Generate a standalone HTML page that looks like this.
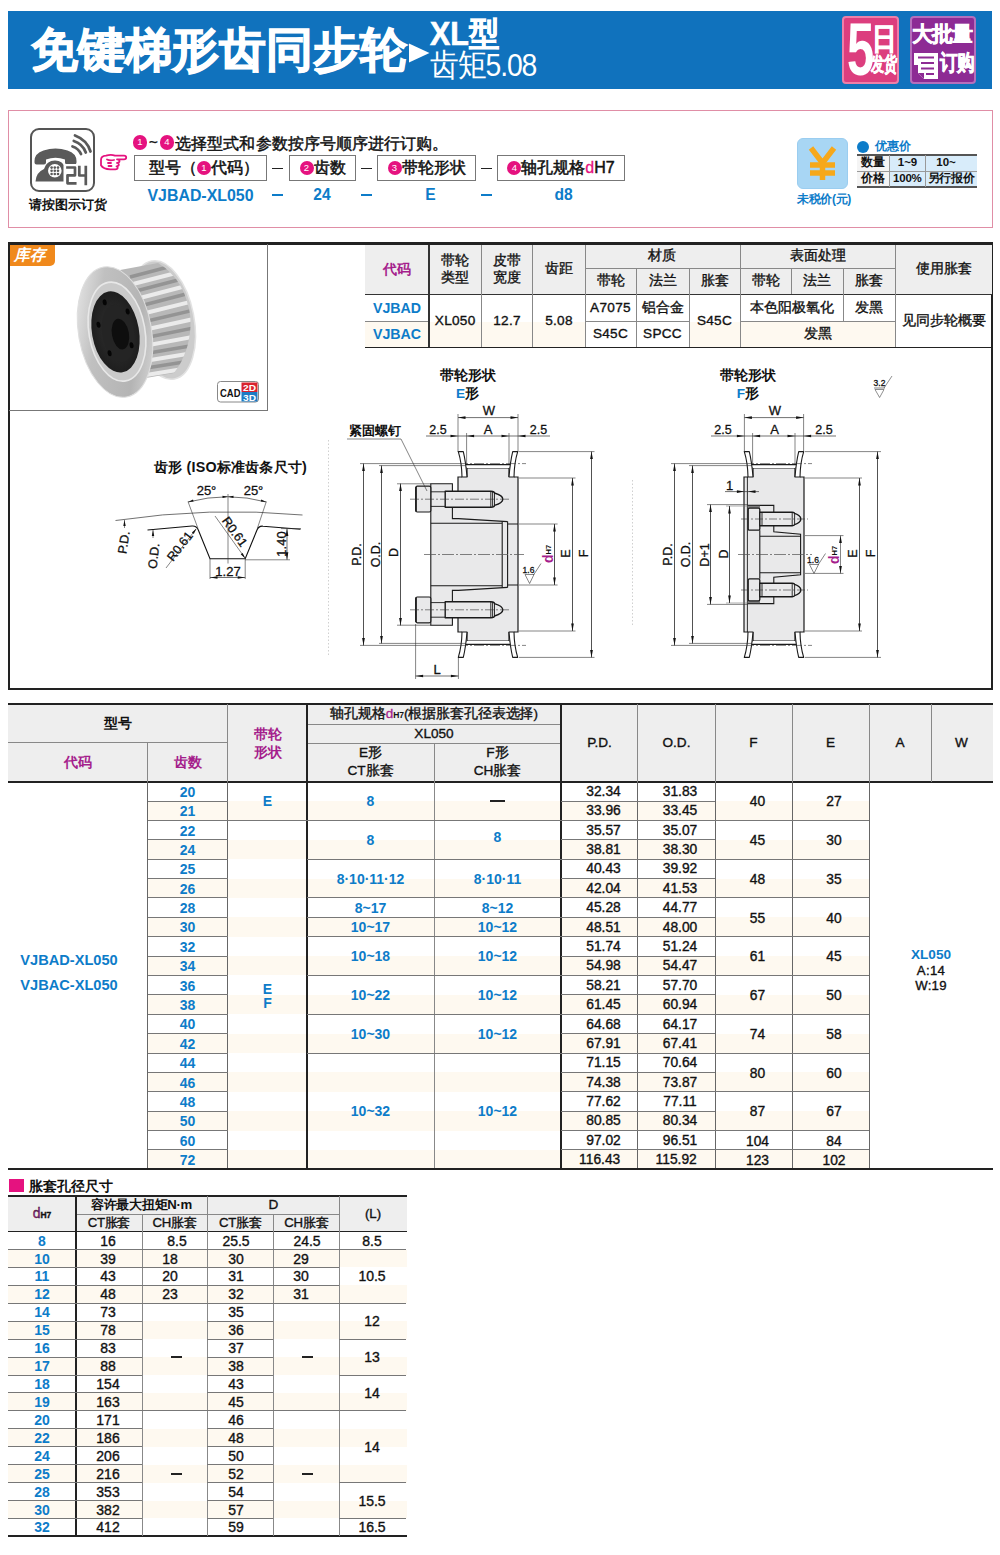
<!DOCTYPE html>
<html><head><meta charset="utf-8"><title>XL</title>
<style>
html,body{margin:0;padding:0;background:#fff;}
html{overflow:hidden;width:1000px;height:1555px;}
body{width:1000px;height:1555px;position:relative;overflow:hidden;font-family:"Liberation Sans",sans-serif;color:#111;}
div{position:absolute;box-sizing:border-box;}
.t{white-space:nowrap;overflow:visible;}
svg{position:absolute;left:0;top:0;}
svg text{font-family:"Liberation Sans",sans-serif;}
</style></head><body>
<div class="" style="left:8px;top:11px;width:984px;height:78px;background:#1072bd;"></div>
<div class="t" style="left:31px;top:20px;height:60px;line-height:60px;font-size:46.5px;font-weight:900;color:#fff;letter-spacing:0px;-webkit-text-stroke:1.1px #fff;">免键梯形齿同步轮</div>
<svg width="1000" height="120" style="z-index:2"><polygon points="409,43.5 409,62.5 429.5,53" fill="#fff"/></svg>
<div class="t" style="left:429.5px;top:15px;height:38px;line-height:38px;font-size:33px;font-weight:bold;color:#fff;-webkit-text-stroke:0.7px #fff;transform:scaleX(0.92);transform-origin:0 50%;">XL型</div>
<div class="t" style="left:430px;top:45.5px;height:38px;line-height:38px;font-size:31.5px;color:#fff;letter-spacing:-1.2px;transform:scaleX(0.9);transform-origin:0 50%;">齿矩5.08</div>
<div class="" style="left:842px;top:16px;width:57px;height:68px;background:#dc3e7e;border:2px solid #ee7fa8;border-radius:4px;"></div>
<div class="t" style="left:846.5px;top:10.5px;height:78px;line-height:78px;font-size:74px;font-weight:bold;color:#fff;transform:scaleX(0.66);transform-origin:0 50%;letter-spacing:-2px;">5</div>
<div class="t" style="left:871.5px;top:22px;height:34px;line-height:34px;font-size:29.5px;font-weight:900;color:#fff;-webkit-text-stroke:0.9px #fff;transform:scaleX(0.82);transform-origin:0 50%;">日</div>
<div class="t" style="left:870.5px;top:52px;height:24px;line-height:24px;font-size:19.5px;font-weight:900;color:#fff;letter-spacing:-1px;-webkit-text-stroke:0.5px #fff;transform:scaleX(0.66);transform-origin:0 50%;">发货</div>
<div class="" style="left:910px;top:16px;width:66px;height:68px;background:#8d2b94;border:2px solid #b56fbc;border-radius:4px;"></div>
<div class="t" style="left:912px;top:19px;height:30px;line-height:30px;font-size:21px;font-weight:900;color:#fff;letter-spacing:-1px;-webkit-text-stroke:0.6px #fff;">大批量</div>
<div class="t" style="left:939.5px;top:48px;height:30px;line-height:30px;font-size:22px;font-weight:900;color:#fff;letter-spacing:-1px;-webkit-text-stroke:0.6px #fff;transform:scaleX(0.8);transform-origin:0 50%;">订购</div>
<svg width="1000" height="120" style="z-index:3"><path d="M914 53 h24 v26 h-14 l-6 -6 v-8 h-4 z" fill="#fff"/><path d="M918 57.5 h16 M921 63 h13 M921 68.5 h13 M926 74 h8" stroke="#8d2b94" stroke-width="2.2" fill="none"/><path d="M918 73 l6 6 v-6 z" fill="#8d2b94"/></svg>
<div class="" style="left:8px;top:109.7px;width:985px;height:118.3px;border:1.5px solid #e08ea6;background:#fff;"></div>
<div class="" style="left:30.4px;top:128.3px;width:64.4px;height:64px;border:2.2px solid #555;border-radius:9px;background:#fff;"></div>
<svg width="1000" height="240" style="z-index:2">
<g fill="#5a5a5a">
<path d="M35.500 181.600 q0.500 -9 8.500 -12.500 q2.500 -8.500 11 -8.500 q8 0 10.500 8 q3 2 3 6 v7 z"/>
<path d="M34.500 161 q0 -7.500 9 -10.500 q12 -4 24 0 q9 3 9 10.500 v1.500 q0 2 -2 2 h-7.500 q-2 0 -2 -2 v-3 q-9.500 -3.500 -19 0 v3 q0 2 -2 2 h-7.500 q-2 0 -2 -2 z"/>
</g>
<circle cx="54.800" cy="170.800" r="6.800" fill="#fff"/>
<g fill="#5a5a5a"><circle cx="51.600" cy="167.600" r="1.300"/><circle cx="54.800" cy="167.600" r="1.300"/><circle cx="58" cy="167.600" r="1.300"/><circle cx="51.600" cy="170.800" r="1.300"/><circle cx="54.800" cy="170.800" r="1.300"/><circle cx="58" cy="170.800" r="1.300"/><circle cx="51.600" cy="174" r="1.300"/><circle cx="54.800" cy="174" r="1.300"/><circle cx="58" cy="174" r="1.300"/></g>
<g fill="none" stroke="#5a5a5a" stroke-width="2.800" stroke-linecap="round">
<path d="M72.500 146.500 q6 2 8.500 7.500"/><path d="M73.800 141 q9 3 12 11.500"/><path d="M75 135.500 q12 4.500 15.500 16"/>
</g>
<rect x="63.500" y="164" width="25" height="22" fill="#fff"/>
<g fill="none" stroke="#5a5a5a" stroke-width="2.700" stroke-linejoin="round" stroke-linecap="square">
<path d="M67.500 167.500 H75 V175.300 H67.500 V183.300 H75.200"/>
<path d="M79.300 167 V175.500 H85.800 M85.800 167 V184"/>
</g>
<!-- pointing hand -->
<g fill="none" stroke="#e5127f" stroke-width="1.800" stroke-linejoin="round" stroke-linecap="round">
<path d="M101 160 q0 -4 5 -4.300 q5 -1.500 9 0 h9 q2.200 0 2.200 1.800 q0 1.800 -2.200 1.800 h-7 q2.500 0 2.500 1.800 q0 1.800 -2.500 1.800 q1.800 0 1.800 1.700 q0 1.700 -2.300 1.700 q1.200 0 1.200 1.500 q0 1.500 -2.400 1.500 h-5 q-7 0 -9.300 -4 z"/>
<path d="M107 159.500 q3 1.500 7 0.500 M108 163 h3 M108.500 166 h3"/>
</g>
</svg>
<div class="t" style="left:7.5px;top:197.9px;width:120px;height:15.1px;line-height:15.1px;font-size:12.6px;color:#111;text-align:center;font-weight:bold;">请按图示订货</div>
<div style="left:132.9px;top:135.4px;width:14.2px;height:14.2px;border-radius:50%;background:#e5127f;color:#fff;font-size:9.6px;line-height:14.2px;text-align:center;">1</div>
<div class="t" style="left:149px;top:132px;height:20px;line-height:20px;font-size:15px;color:#111;-webkit-text-stroke:0.4px #111;">~</div>
<div style="left:159.9px;top:135.4px;width:14.2px;height:14.2px;border-radius:50%;background:#e5127f;color:#fff;font-size:9.6px;line-height:14.2px;text-align:center;">4</div>
<div class="t" style="left:175.3px;top:131.5px;height:22px;line-height:22px;font-size:16.2px;color:#111;letter-spacing:0.05px;-webkit-text-stroke:0.45px #111;">选择型式和参数按序号顺序进行订购。</div>
<div class="t" style="left:134px;top:155px;width:133px;height:26px;border:1px solid #777;background:#fff;font-size:16px;line-height:24px;text-align:center;color:#111;-webkit-text-stroke:0.5px #111;padding-left:7px;">型号（<span style="display:inline-block;position:relative;top:-1px;width:14px;height:14px;border-radius:50%;background:#e5127f;color:#fff;font-size:9.5px;line-height:14px;text-align:center;vertical-align:middle;-webkit-text-stroke:0;">1</span>代码）</div>
<div class="t" style="left:289px;top:155px;width:67px;height:26px;border:1px solid #777;background:#fff;font-size:16px;line-height:24px;text-align:center;color:#111;-webkit-text-stroke:0.5px #111;"><span style="display:inline-block;position:relative;top:-1px;width:14px;height:14px;border-radius:50%;background:#e5127f;color:#fff;font-size:9.5px;line-height:14px;text-align:center;vertical-align:middle;-webkit-text-stroke:0;">2</span>齿数</div>
<div class="t" style="left:377px;top:155px;width:99px;height:26px;border:1px solid #777;background:#fff;font-size:16px;line-height:24px;text-align:center;color:#111;-webkit-text-stroke:0.5px #111;"><span style="display:inline-block;position:relative;top:-1px;width:14px;height:14px;border-radius:50%;background:#e5127f;color:#fff;font-size:9.5px;line-height:14px;text-align:center;vertical-align:middle;-webkit-text-stroke:0;">3</span>带轮形状</div>
<div class="t" style="left:497px;top:155px;width:128px;height:26px;border:1px solid #777;background:#fff;font-size:16px;line-height:24px;text-align:center;color:#111;-webkit-text-stroke:0.5px #111;"><span style="display:inline-block;position:relative;top:-1px;width:14px;height:14px;border-radius:50%;background:#e5127f;color:#fff;font-size:9.5px;line-height:14px;text-align:center;vertical-align:middle;-webkit-text-stroke:0;">4</span>轴孔规格<span style="color:#e5127f;-webkit-text-stroke:0.3px #e5127f">d</span>H7</div>
<div class="l" style="left:272.0px;top:167.85px;width:11.0px;height:1.3px;background:#222"></div>
<div class="l" style="left:272.0px;top:194.20px;width:11.0px;height:1.6px;background:#0d7cc9"></div>
<div class="l" style="left:361.0px;top:167.85px;width:11.0px;height:1.3px;background:#222"></div>
<div class="l" style="left:361.0px;top:194.20px;width:11.0px;height:1.6px;background:#0d7cc9"></div>
<div class="l" style="left:481.2px;top:167.85px;width:11.0px;height:1.3px;background:#222"></div>
<div class="l" style="left:481.2px;top:194.20px;width:11.0px;height:1.6px;background:#0d7cc9"></div>
<div class="t" style="left:120.5px;top:185.5px;width:160px;height:19.1px;line-height:19.1px;font-size:15.9px;color:#0d7cc9;text-align:center;font-weight:bold;">VJBAD-XL050</div>
<div class="t" style="left:292.0px;top:185.6px;width:60px;height:18.7px;line-height:18.7px;font-size:15.6px;color:#0d7cc9;text-align:center;font-weight:bold;">24</div>
<div class="t" style="left:400.5px;top:185.6px;width:60px;height:18.7px;line-height:18.7px;font-size:15.6px;color:#0d7cc9;text-align:center;font-weight:bold;">E</div>
<div class="t" style="left:533.5px;top:185.6px;width:60px;height:18.7px;line-height:18.7px;font-size:15.6px;color:#0d7cc9;text-align:center;font-weight:bold;">d8</div>
<div class="" style="left:797px;top:138px;width:51px;height:51px;background:#a8d6f4;border-radius:6px;border:1px solid #9acdf0;"></div>
<svg width="1000" height="240" style="z-index:2"><g stroke="#f6a81a" stroke-width="5.5" fill="none" stroke-linecap="butt"><path d="M811 148 l11.5 15 l11.5 -15"/><path d="M822.500 161 v19"/><path d="M810 165 h25"/><path d="M810 173 h25"/></g></svg>
<div class="t" style="left:774.0px;top:192.3px;width:100px;height:14.4px;line-height:14.4px;font-size:12px;color:#0d7cc9;text-align:center;font-weight:bold;letter-spacing:-0.4px;">未税价(元)</div>
<div style="left:857px;top:140.5px;width:12px;height:12px;border-radius:50%;background:#0d7cc9;"></div>
<div class="t" style="left:874.5px;top:138px;height:17px;line-height:17px;font-size:11.8px;font-weight:bold;color:#0d7cc9;">优惠价</div>
<div class="" style="left:857px;top:155px;width:32px;height:32px;background:#f4f4f4;"></div>
<div class="" style="left:889px;top:155px;width:88px;height:32px;background:#d8ecfa;"></div>
<div class="l" style="left:857px;top:154.40px;width:120px;height:1.2px;background:#555"></div>
<div class="l" style="left:857px;top:170.50px;width:120px;height:1px;background:#999"></div>
<div class="l" style="left:857px;top:186.40px;width:120px;height:1.2px;background:#555"></div>
<div class="l" style="left:888.80px;top:155px;width:1px;height:32px;background:#999"></div>
<div class="l" style="left:924.70px;top:155px;width:1px;height:32px;background:#999"></div>
<div class="t" style="left:853.0px;top:156.4px;width:40px;height:13.8px;line-height:13.8px;font-size:11.5px;color:#111;text-align:center;font-weight:bold;">数量</div>
<div class="t" style="left:853.0px;top:172.4px;width:40px;height:13.8px;line-height:13.8px;font-size:11.5px;color:#111;text-align:center;font-weight:bold;">价格</div>
<div class="t" style="left:887.5px;top:156.4px;width:40px;height:13.8px;line-height:13.8px;font-size:11.5px;color:#111;text-align:center;font-weight:bold;">1~9</div>
<div class="t" style="left:921.0px;top:156.4px;width:50px;height:13.8px;line-height:13.8px;font-size:11.5px;color:#111;text-align:center;font-weight:bold;">10~</div>
<div class="t" style="left:887.3px;top:172.4px;width:40px;height:13.8px;line-height:13.8px;font-size:11.5px;color:#111;text-align:center;font-weight:bold;letter-spacing:-0.2px;">100%</div>
<div class="t" style="left:921.0px;top:172.4px;width:60px;height:13.8px;line-height:13.8px;font-size:11.5px;color:#111;text-align:center;font-weight:bold;letter-spacing:-0.3px;">另行报价</div>
<div class="l" style="left:8px;top:242.40px;width:984.5px;height:2.2px;background:#222"></div>
<div class="l" style="left:8.00px;top:243px;width:1.6px;height:446.5px;background:#222"></div>
<div class="l" style="left:991.40px;top:243px;width:1.2px;height:446.5px;background:#222"></div>
<div class="l" style="left:8px;top:688.10px;width:984.5px;height:1.8px;background:#222"></div>
<div class="l" style="left:9px;top:410.00px;width:258.5px;height:1px;background:#777"></div>
<div class="l" style="left:266.80px;top:244px;width:1px;height:167px;background:#777"></div>
<div class="" style="left:9.5px;top:244.5px;width:45.5px;height:21px;background:#f0891c;border-radius:0 0 5px 0;"></div>
<div class="t" style="left:13.5px;top:244.5px;height:20px;line-height:20px;font-size:15.5px;font-weight:bold;font-style:italic;color:#fff;">库存</div>
<svg width="1000" height="420" style="z-index:1">
<defs>
<linearGradient id="gb" x1="0" y1="0" x2="0" y2="1"><stop offset="0" stop-color="#f4f4f4"/><stop offset="0.25" stop-color="#d9d9d9"/><stop offset="0.55" stop-color="#f0f0f0"/><stop offset="0.85" stop-color="#c9c9c9"/><stop offset="1" stop-color="#e6e6e6"/></linearGradient>
<linearGradient id="gf" x1="0" y1="0.2" x2="1" y2="0.8"><stop offset="0" stop-color="#e6e6e6"/><stop offset="0.3" stop-color="#c0c0c0"/><stop offset="0.75" stop-color="#b4b4b4"/><stop offset="1" stop-color="#d6d6d6"/></linearGradient>
<radialGradient id="gk" cx="0.5" cy="0.5" r="0.6"><stop offset="0" stop-color="#333"/><stop offset="1" stop-color="#1a1a1a"/></radialGradient>
</defs>
<!-- back flange -->
<ellipse cx="163" cy="320" rx="31" ry="60" transform="rotate(-11 163 320)" fill="#cccccc" stroke="#e2e2e2" stroke-width="1.5"/>
<clipPath id="cb"><path d="M120 270 L158 263 Q186 280 190.500 318 Q191.500 350 174 373 L146 378 Z"/></clipPath>
<path d="M120 270 L158 263 Q186 280 190.500 318 Q191.500 350 174 373 L146 378 Z" fill="#b8b8b8"/>
<g clip-path="url(#cb)" fill="none">
<g stroke="#949494" stroke-width="3.4">
<path d="M130 277 L172 266"/><path d="M136 291 L182 279"/><path d="M140 306 L190 293"/><path d="M143 322 L194 310"/><path d="M144 338 L194 328"/><path d="M143 354 L190 346"/><path d="M140 369 L184 362"/><path d="M134 384 L176 377"/>
</g>
<g stroke="#ebebeb" stroke-width="4">
<path d="M133 284 L178 272.500"/><path d="M138 298.500 L186 286"/><path d="M141.500 314 L192 301.500"/><path d="M143.500 330 L194 319"/><path d="M143.500 346 L192 337"/><path d="M141.500 361.500 L187 354"/><path d="M137 376.500 L180 369.500"/>
</g>
</g>
<!-- front flange -->
<g transform="rotate(-10 115 332)">
<ellipse cx="115" cy="332" rx="36.500" ry="66" fill="url(#gf)" stroke="#dedede" stroke-width="1"/>
<ellipse cx="117" cy="332" rx="28" ry="50" fill="#cacaca" stroke="#e8e8e8" stroke-width="1.6"/>
<ellipse cx="115.500" cy="332" rx="23.500" ry="41" fill="url(#gk)"/>
<ellipse cx="118" cy="334" rx="16" ry="29" fill="#242424"/>
<ellipse cx="120" cy="335" rx="8.500" ry="15.500" fill="#0e0e0e"/>
<ellipse cx="110" cy="301" rx="2" ry="3" fill="#050505"/><ellipse cx="100" cy="322" rx="2" ry="3" fill="#050505"/><ellipse cx="106" cy="352" rx="2" ry="3" fill="#050505"/><ellipse cx="129" cy="348" rx="2" ry="3" fill="#050505"/><ellipse cx="131" cy="314" rx="2" ry="3" fill="#050505"/>
</g>
<!-- CAD badge -->
<rect x="217.500" y="381.500" width="41" height="20.500" rx="3" fill="#fff" stroke="#888" stroke-width="1"/>
<rect x="241.500" y="382.500" width="16" height="9.500" fill="#d9232e"/><rect x="241.500" y="392" width="16" height="9.500" fill="#1d7bc4"/>
<text x="220" y="397" font-size="11.500" font-weight="bold" fill="#111" textLength="20.500" lengthAdjust="spacingAndGlyphs">CAD</text>
<text x="243" y="391" font-size="9" font-weight="bold" fill="#fff" textLength="13" lengthAdjust="spacingAndGlyphs">2D</text>
<text x="243" y="400.500" font-size="9" font-weight="bold" fill="#fff" textLength="13" lengthAdjust="spacingAndGlyphs">3D</text>
</svg>
<div class="" style="left:365px;top:244.5px;width:627px;height:50px;background:#eeeeee;"></div>
<div class="" style="left:365px;top:321.5px;width:64px;height:25.5px;background:#fef9f0;"></div>
<div class="" style="left:429.5px;top:321.5px;width:155.5px;height:25.5px;background:#fef9f0;"></div>
<div class="" style="left:689px;top:321.5px;width:206px;height:25.5px;background:#fef9f0;"></div>
<div class="l" style="left:365px;top:293.75px;width:627px;height:1.3px;background:#333"></div>
<div class="l" style="left:365px;top:346.50px;width:627px;height:1.4px;background:#222"></div>
<div class="l" style="left:585px;top:267.50px;width:310.29999999999995px;height:1px;background:#888"></div>
<div class="l" style="left:365px;top:321.00px;width:64px;height:1px;background:#888"></div>
<div class="l" style="left:585px;top:321.00px;width:104px;height:1px;background:#888"></div>
<div class="l" style="left:740px;top:321.00px;width:155.29999999999995px;height:1px;background:#888"></div>
<div class="l" style="left:428.45px;top:244.5px;width:1.5px;height:102.69999999999999px;background:#333"></div>
<div class="l" style="left:480.80px;top:244.5px;width:1px;height:102.69999999999999px;background:#888"></div>
<div class="l" style="left:532.30px;top:244.5px;width:1px;height:102.69999999999999px;background:#888"></div>
<div class="l" style="left:584.50px;top:244.5px;width:1px;height:102.69999999999999px;background:#888"></div>
<div class="l" style="left:739.50px;top:244.5px;width:1px;height:102.69999999999999px;background:#888"></div>
<div class="l" style="left:894.80px;top:244.5px;width:1px;height:102.69999999999999px;background:#888"></div>
<div class="l" style="left:635.50px;top:268px;width:1px;height:26.399999999999977px;background:#888"></div>
<div class="l" style="left:688.50px;top:268px;width:1px;height:26.399999999999977px;background:#888"></div>
<div class="l" style="left:791.00px;top:268px;width:1px;height:26.399999999999977px;background:#888"></div>
<div class="l" style="left:842.80px;top:268px;width:1px;height:26.399999999999977px;background:#888"></div>
<div class="l" style="left:635.50px;top:294.4px;width:1px;height:52.80000000000001px;background:#888"></div>
<div class="l" style="left:688.50px;top:294.4px;width:1px;height:52.80000000000001px;background:#888"></div>
<div class="l" style="left:842.80px;top:294.4px;width:1px;height:27.100000000000023px;background:#888"></div>
<div class="t" style="left:327.0px;top:261.1px;width:140px;height:16.8px;line-height:16.8px;font-size:14px;color:#a51e8c;text-align:center;font-weight:bold;">代码</div>
<div class="t" style="left:385.2px;top:252.8px;width:140px;height:16.3px;line-height:16.3px;font-size:13.6px;color:#111;text-align:center;-webkit-text-stroke:0.35px #111;">带轮</div>
<div class="t" style="left:385.2px;top:270.3px;width:140px;height:16.3px;line-height:16.3px;font-size:13.6px;color:#111;text-align:center;-webkit-text-stroke:0.35px #111;">类型</div>
<div class="t" style="left:437.0px;top:252.8px;width:140px;height:16.3px;line-height:16.3px;font-size:13.6px;color:#111;text-align:center;-webkit-text-stroke:0.35px #111;">皮带</div>
<div class="t" style="left:437.0px;top:270.3px;width:140px;height:16.3px;line-height:16.3px;font-size:13.6px;color:#111;text-align:center;-webkit-text-stroke:0.35px #111;">宽度</div>
<div class="t" style="left:489.0px;top:261.3px;width:140px;height:16.3px;line-height:16.3px;font-size:13.6px;color:#111;text-align:center;-webkit-text-stroke:0.35px #111;">齿距</div>
<div class="t" style="left:592.0px;top:248.3px;width:140px;height:16.3px;line-height:16.3px;font-size:13.6px;color:#111;text-align:center;-webkit-text-stroke:0.35px #111;">材质</div>
<div class="t" style="left:747.5px;top:248.3px;width:140px;height:16.3px;line-height:16.3px;font-size:13.6px;color:#111;text-align:center;-webkit-text-stroke:0.35px #111;">表面处理</div>
<div class="t" style="left:540.5px;top:273.3px;width:140px;height:16.3px;line-height:16.3px;font-size:13.6px;color:#111;text-align:center;-webkit-text-stroke:0.35px #111;">带轮</div>
<div class="t" style="left:592.5px;top:273.3px;width:140px;height:16.3px;line-height:16.3px;font-size:13.6px;color:#111;text-align:center;-webkit-text-stroke:0.35px #111;">法兰</div>
<div class="t" style="left:644.5px;top:273.3px;width:140px;height:16.3px;line-height:16.3px;font-size:13.6px;color:#111;text-align:center;-webkit-text-stroke:0.35px #111;">胀套</div>
<div class="t" style="left:695.7px;top:273.3px;width:140px;height:16.3px;line-height:16.3px;font-size:13.6px;color:#111;text-align:center;-webkit-text-stroke:0.35px #111;">带轮</div>
<div class="t" style="left:747.4px;top:273.3px;width:140px;height:16.3px;line-height:16.3px;font-size:13.6px;color:#111;text-align:center;-webkit-text-stroke:0.35px #111;">法兰</div>
<div class="t" style="left:799.3px;top:273.3px;width:140px;height:16.3px;line-height:16.3px;font-size:13.6px;color:#111;text-align:center;-webkit-text-stroke:0.35px #111;">胀套</div>
<div class="t" style="left:873.6px;top:261.3px;width:140px;height:16.3px;line-height:16.3px;font-size:13.6px;color:#111;text-align:center;-webkit-text-stroke:0.35px #111;">使用胀套</div>
<div class="t" style="left:327.0px;top:299.5px;width:140px;height:17.0px;line-height:17.0px;font-size:14.2px;color:#0d7cc9;text-align:center;font-weight:bold;">VJBAD</div>
<div class="t" style="left:327.0px;top:326.0px;width:140px;height:17.0px;line-height:17.0px;font-size:14.2px;color:#0d7cc9;text-align:center;font-weight:bold;">VJBAC</div>
<div class="t" style="left:385.2px;top:312.8px;width:140px;height:16.3px;line-height:16.3px;font-size:13.6px;color:#111;text-align:center;-webkit-text-stroke:0.35px #111;letter-spacing:0.3px;">XL050</div>
<div class="t" style="left:437.0px;top:312.8px;width:140px;height:16.3px;line-height:16.3px;font-size:13.6px;color:#111;text-align:center;-webkit-text-stroke:0.35px #111;letter-spacing:0.3px;">12.7</div>
<div class="t" style="left:489.0px;top:312.8px;width:140px;height:16.3px;line-height:16.3px;font-size:13.6px;color:#111;text-align:center;-webkit-text-stroke:0.35px #111;letter-spacing:0.3px;">5.08</div>
<div class="t" style="left:540.5px;top:299.8px;width:140px;height:16.3px;line-height:16.3px;font-size:13.6px;color:#111;text-align:center;-webkit-text-stroke:0.35px #111;letter-spacing:0.3px;">A7075</div>
<div class="t" style="left:592.5px;top:299.8px;width:140px;height:16.3px;line-height:16.3px;font-size:13.6px;color:#111;text-align:center;-webkit-text-stroke:0.35px #111;">铝合金</div>
<div class="t" style="left:540.5px;top:326.3px;width:140px;height:16.3px;line-height:16.3px;font-size:13.6px;color:#111;text-align:center;-webkit-text-stroke:0.35px #111;letter-spacing:0.3px;">S45C</div>
<div class="t" style="left:592.5px;top:326.3px;width:140px;height:16.3px;line-height:16.3px;font-size:13.6px;color:#111;text-align:center;-webkit-text-stroke:0.35px #111;letter-spacing:0.3px;">SPCC</div>
<div class="t" style="left:644.5px;top:312.8px;width:140px;height:16.3px;line-height:16.3px;font-size:13.6px;color:#111;text-align:center;-webkit-text-stroke:0.35px #111;letter-spacing:0.3px;">S45C</div>
<div class="t" style="left:721.5px;top:299.8px;width:140px;height:16.3px;line-height:16.3px;font-size:13.6px;color:#111;text-align:center;-webkit-text-stroke:0.35px #111;">本色阳极氧化</div>
<div class="t" style="left:799.3px;top:299.8px;width:140px;height:16.3px;line-height:16.3px;font-size:13.6px;color:#111;text-align:center;-webkit-text-stroke:0.35px #111;">发黑</div>
<div class="t" style="left:747.5px;top:326.3px;width:140px;height:16.3px;line-height:16.3px;font-size:13.6px;color:#111;text-align:center;-webkit-text-stroke:0.35px #111;">发黑</div>
<div class="t" style="left:873.6px;top:312.8px;width:140px;height:16.3px;line-height:16.3px;font-size:13.6px;color:#111;text-align:center;-webkit-text-stroke:0.35px #111;">见同步轮概要</div>
<div class="t" style="left:407.5px;top:367.6px;width:120px;height:16.3px;line-height:16.3px;font-size:13.6px;color:#111;text-align:center;font-weight:bold;">带轮形状</div>
<div class="t" style="left:407.5px;top:385.5px;width:120px;height:16.3px;line-height:16.3px;font-size:13.6px;color:#111;text-align:center;font-weight:bold;"><span style="color:#0d7cc9">E</span>形</div>
<div class="t" style="left:688.0px;top:367.6px;width:120px;height:16.3px;line-height:16.3px;font-size:13.6px;color:#111;text-align:center;font-weight:bold;">带轮形状</div>
<div class="t" style="left:688.0px;top:385.5px;width:120px;height:16.3px;line-height:16.3px;font-size:13.6px;color:#111;text-align:center;font-weight:bold;"><span style="color:#0d7cc9">F</span>形</div>
<div class="t" style="left:120.5px;top:458.9px;width:220px;height:17.2px;line-height:17.2px;font-size:14.3px;color:#111;text-align:center;font-weight:bold;letter-spacing:0.2px;">齿形 (ISO标准齿条尺寸)</div>
<div class="t" style="left:334.5px;top:422.6px;width:80px;height:15.8px;line-height:15.8px;font-size:13.2px;color:#111;text-align:center;font-weight:bold;">紧固螺钉</div>
<svg width="1000" height="700" style="z-index:2"><line x1="328.5" y1="440" x2="328.5" y2="655" stroke="#bbb" stroke-width="0.7" stroke-dasharray="1.5 2"/>
<line x1="632.5" y1="480" x2="632.5" y2="625" stroke="#bbb" stroke-width="0.7" stroke-dasharray="1.5 2"/>
<path d="M115.500 520.500 Q210 506.500 302.500 515" fill="none" stroke="#333" stroke-width="0.7"/>
<path d="M147.500 530 L192 526 Q196.500 525.600 198.300 530 L210 558.800 L245.200 558.800 L257 530 Q258.800 525.700 263 526.200 L300.500 529.300" fill="none" stroke="#111" stroke-width="1.1"/>
<line x1="228" y1="494" x2="228" y2="563.5" stroke="#333" stroke-width="0.6"/>
<line x1="188" y1="501.6" x2="198" y2="528.5" stroke="#333" stroke-width="0.6"/>
<line x1="266.3" y1="501.6" x2="257.3" y2="528.5" stroke="#333" stroke-width="0.6"/>
<path d="M188 502 Q228 491.500 266.300 502" fill="none" stroke="#333" stroke-width="0.7"/>
<polygon points="188.00,502.00 193.00,499.46 193.59,501.58" fill="#111"/>
<polygon points="266.30,502.00 260.71,501.58 261.30,499.46" fill="#111"/>
<polygon points="228.00,496.80 222.50,497.90 222.50,495.70" fill="#111"/>
<polygon points="228.00,496.80 233.50,495.70 233.50,497.90" fill="#111"/>
<text x="206.5" y="490.5" font-size="13" fill="#111" stroke="#111" stroke-width="0.3" text-anchor="middle" dominant-baseline="central" >25°</text>
<text x="253.5" y="490.5" font-size="13" fill="#111" stroke="#111" stroke-width="0.3" text-anchor="middle" dominant-baseline="central" >25°</text>
<line x1="215" y1="516" x2="245" y2="558" stroke="#333" stroke-width="0.6"/>
<polygon points="245.20,558.50 240.73,554.32 242.68,552.92" fill="#111"/>
<text x="234.5" y="532" font-size="12.5" fill="#111" stroke="#111" stroke-width="0.3" text-anchor="middle" dominant-baseline="central" transform="rotate(54 234.5 532)" >R0.61</text>
<line x1="166" y1="568" x2="196" y2="529" stroke="#333" stroke-width="0.6"/>
<polygon points="196.50,528.50 193.78,533.98 191.88,532.52" fill="#111"/>
<text x="180" y="546.5" font-size="12.5" fill="#111" stroke="#111" stroke-width="0.3" text-anchor="middle" dominant-baseline="central" transform="rotate(-52 180 546.5)" >R0.61</text>
<line x1="124.5" y1="520" x2="124.5" y2="528" stroke="#333" stroke-width="0.6"/>
<polygon points="124.50,520.00 125.70,526.00 123.30,526.00" fill="#111"/>
<text x="124" y="542.5" font-size="12.5" fill="#111" stroke="#111" stroke-width="0.3" text-anchor="middle" dominant-baseline="central" transform="rotate(-81 124 542.5)" >P.D.</text>
<line x1="153" y1="530" x2="153" y2="538" stroke="#333" stroke-width="0.6"/>
<polygon points="153.00,530.00 154.20,536.00 151.80,536.00" fill="#111"/>
<text x="154" y="556" font-size="12.5" fill="#111" stroke="#111" stroke-width="0.3" text-anchor="middle" dominant-baseline="central" transform="rotate(-83 154 556)" >O.D.</text>
<line x1="210" y1="559" x2="210" y2="579" stroke="#333" stroke-width="0.6"/>
<line x1="245.2" y1="559" x2="245.2" y2="579" stroke="#333" stroke-width="0.6"/>
<line x1="210" y1="577.5" x2="245.2" y2="577.5" stroke="#333" stroke-width="0.7"/>
<polygon points="210.00,577.50 217.50,576.15 217.50,578.85" fill="#111"/>
<polygon points="245.20,577.50 237.70,578.85 237.70,576.15" fill="#111"/>
<text x="228" y="571" font-size="13" fill="#111" stroke="#111" stroke-width="0.3" text-anchor="middle" dominant-baseline="central" >1.27</text>
<line x1="245" y1="559.8" x2="290" y2="559.8" stroke="#333" stroke-width="0.6"/>
<line x1="281" y1="528.6" x2="301" y2="528.6" stroke="#333" stroke-width="0.6"/>
<line x1="287" y1="528.6" x2="287" y2="559.8" stroke="#333" stroke-width="0.7"/>
<polygon points="287.00,528.60 288.35,536.10 285.65,536.10" fill="#111"/>
<polygon points="287.00,559.80 285.65,552.30 288.35,552.30" fill="#111"/>
<text x="281.5" y="544" font-size="13" fill="#111" stroke="#111" stroke-width="0.3" text-anchor="middle" dominant-baseline="central" transform="rotate(-90 281.5 544)" >1.40</text>
<g id="gE"><path d="M458 554.5 V477 H467 V468 H509 V477 H518 V554.5 Z" fill="#e9e9ea" stroke="none"/><rect x="430.8" y="518" width="87.2" height="36.5" fill="#e9e9ea"/><path d="M458 518.6 V477 H462 M467 477 V468 H509 V477 M514 477 H518 V554.5" fill="none" stroke="#1a1a1a" stroke-width="1.2"/><rect x="467" y="464.4" width="42" height="3.6" fill="#fff"/><line x1="466" y1="464.6" x2="510" y2="464.6" stroke="#1a1a1a" stroke-width="1.1"/><path d="M458.3 451.6 L463.3 451.6 Q465.8 462 467 477 L462 477 Q461.8 463 458.3 451.6 Z" fill="#fff" stroke="#1a1a1a" stroke-width="1.1" stroke-linejoin="round"/><path d="M517.7 451.6 L512.7 451.6 Q510.2 462 509 477 L514 477 Q514.2 463 517.7 451.6 Z" fill="#fff" stroke="#1a1a1a" stroke-width="1.1" stroke-linejoin="round"/><rect x="430.8" y="483.8" width="21.6" height="70.69999999999999" fill="#e9e9ea"/><rect x="452" y="491.6" width="7" height="27" fill="#e9e9ea"/><path d="M430.8 554.5 V483.8 H452.4 V491.6 M452.4 506.6 V518.6 H458.4 L507.6 521.6" fill="none" stroke="#1a1a1a" stroke-width="1.1"/><path d="M430.8 523.2 H502.2 M502.2 521.4 V554.5 M507.6 521.6 V554.5 M507.6 524 H518" fill="none" stroke="#1a1a1a" stroke-width="1.1"/><rect x="415.8" y="486.2" width="15" height="25.8" rx="1.5" fill="#e9e9ea" stroke="#1a1a1a" stroke-width="1.2"/><line x1="416" y1="487" x2="416" y2="511.4" stroke="#1a1a1a" stroke-width="1.6"/><path d="M430.8 491.8 H445.2 M430.8 506.4 H445.2" fill="none" stroke="#1a1a1a" stroke-width="0.9"/><path d="M445.2 491.2 H490.8 Q494.5 491.6 494.5 493 Q502.8 495.5 502.8 499.2 Q502.8 502.8 494.5 505.4 Q494.5 506.8 490.8 507.2 H445.2 Z" fill="#e9e9ea" stroke="#1a1a1a" stroke-width="1.4" stroke-linejoin="round"/><path d="M490.8 491.2 V507.2 M492.6 491.6 V506.8 M494.5 493 V505.4" stroke="#1a1a1a" stroke-width="0.9" fill="none"/><line x1="410" y1="499.2" x2="509" y2="499.2" stroke="#333" stroke-width="0.6" stroke-dasharray="9 2 2 2"/></g>
<use href="#gE" transform="translate(0 1109.0) scale(1 -1)"/>
<g id="gF"><path d="M744 554.5 V477 H753 V468 H795 V477 H804 V554.5 Z" fill="#e9e9ea" stroke="none"/><path d="M744 554.5 V477 H748 M753 477 V468 H795 V477 M800 477 H804 V554.5" fill="none" stroke="#1a1a1a" stroke-width="1.2"/><rect x="753" y="464.4" width="42" height="3.6" fill="#fff"/><line x1="752" y1="464.6" x2="796" y2="464.6" stroke="#1a1a1a" stroke-width="1.1"/><path d="M744.3 451.6 L749.3 451.6 Q751.8 462 753 477 L748 477 Q747.8 463 744.3 451.6 Z" fill="#fff" stroke="#1a1a1a" stroke-width="1.1" stroke-linejoin="round"/><path d="M803.7 451.6 L798.7 451.6 Q796.2 462 795 477 L800 477 Q800.2 463 803.7 451.6 Z" fill="#fff" stroke="#1a1a1a" stroke-width="1.1" stroke-linejoin="round"/><line x1="747.4" y1="477" x2="747.4" y2="554.5" stroke="#1a1a1a" stroke-width="0.9"/><path d="M747.4 505.4 H773.8 V512.2 M748 507 H760 M773.8 525.8 V531.8 L800.6 534.2 V554.5 M759.8 530.2 V554.5 M759.8 536.2 H800.6" fill="none" stroke="#1a1a1a" stroke-width="1.1"/><rect x="748.2" y="508.2" width="11.6" height="22" rx="1.3" fill="#e9e9ea" stroke="#1a1a1a" stroke-width="1.3"/><path d="M759.8 512.2 H792.2 Q794.6 512.4 794.6 513.4 Q800.8 515.5 800.8 519 Q800.8 522.500 794.6 524.6 Q794.6 525.6 792.2 525.8 H759.8 Z" fill="#e9e9ea" stroke="#1a1a1a" stroke-width="1.4" stroke-linejoin="round"/><path d="M792.2 512.2 V525.8 M794.6 513.4 V524.6 M762 512.5 V525.5" stroke="#1a1a1a" stroke-width="0.9" fill="none"/><line x1="741" y1="519" x2="808" y2="519" stroke="#333" stroke-width="0.6" stroke-dasharray="8 2 2 2"/></g>
<use href="#gF" transform="translate(0 1109.0) scale(1 -1)"/>
<line x1="424" y1="554.5" x2="524" y2="554.5" stroke="#333" stroke-width="0.6" stroke-dasharray="12 2 2 2"/>
<line x1="360" y1="463.6" x2="458" y2="463.6" stroke="#333" stroke-width="0.6"/>
<line x1="458" y1="463.6" x2="526" y2="463.6" stroke="#333" stroke-width="0.6" stroke-dasharray="10 2 2 2"/>
<line x1="360" y1="645.4" x2="458" y2="645.4" stroke="#333" stroke-width="0.6"/>
<line x1="458" y1="645.4" x2="526" y2="645.4" stroke="#333" stroke-width="0.6" stroke-dasharray="10 2 2 2"/>
<line x1="379" y1="465.6" x2="466" y2="465.6" stroke="#333" stroke-width="0.6"/>
<line x1="379" y1="643.4" x2="466" y2="643.4" stroke="#333" stroke-width="0.6"/>
<line x1="397" y1="483.8" x2="431" y2="483.8" stroke="#333" stroke-width="0.6"/>
<line x1="397" y1="625.2" x2="431" y2="625.2" stroke="#333" stroke-width="0.6"/>
<line x1="363.5" y1="463.6" x2="363.5" y2="645.4" stroke="#333" stroke-width="0.85"/>
<polygon points="363.50,463.60 364.85,471.10 362.15,471.10" fill="#111"/>
<polygon points="363.50,645.40 362.15,637.90 364.85,637.90" fill="#111"/>
<line x1="381.5" y1="465.6" x2="381.5" y2="643.4" stroke="#333" stroke-width="0.85"/>
<polygon points="381.50,465.60 382.85,473.10 380.15,473.10" fill="#111"/>
<polygon points="381.50,643.40 380.15,635.90 382.85,635.90" fill="#111"/>
<line x1="400.5" y1="483.6" x2="400.5" y2="625.4" stroke="#333" stroke-width="0.85"/>
<polygon points="400.50,483.60 401.85,491.10 399.15,491.10" fill="#111"/>
<polygon points="400.50,625.40 399.15,617.90 401.85,617.90" fill="#111"/>
<text x="357" y="554.5" font-size="12.5" fill="#111" stroke="#111" stroke-width="0.3" text-anchor="middle" dominant-baseline="central" transform="rotate(-90 357 554.5)" >P.D.</text>
<text x="375.5" y="554.5" font-size="12.5" fill="#111" stroke="#111" stroke-width="0.3" text-anchor="middle" dominant-baseline="central" transform="rotate(-90 375.5 554.5)" >O.D.</text>
<text x="394" y="552.5" font-size="12.5" fill="#111" stroke="#111" stroke-width="0.3" text-anchor="middle" dominant-baseline="central" transform="rotate(-90 394 552.5)" >D</text>
<line x1="519" y1="451.6" x2="594.5" y2="451.6" stroke="#333" stroke-width="0.6"/>
<line x1="519" y1="657.4" x2="594.5" y2="657.4" stroke="#333" stroke-width="0.6"/>
<line x1="519" y1="478" x2="575.5" y2="478" stroke="#333" stroke-width="0.6"/>
<line x1="519" y1="631" x2="575.5" y2="631" stroke="#333" stroke-width="0.6"/>
<line x1="519" y1="524" x2="557.6" y2="524" stroke="#333" stroke-width="0.6"/>
<line x1="519" y1="585" x2="557.6" y2="585" stroke="#333" stroke-width="0.6"/>
<line x1="591.5" y1="451.6" x2="591.5" y2="657.4" stroke="#333" stroke-width="0.85"/>
<polygon points="591.50,451.60 592.85,459.10 590.15,459.10" fill="#111"/>
<polygon points="591.50,657.40 590.15,649.90 592.85,649.90" fill="#111"/>
<line x1="572.5" y1="478" x2="572.5" y2="631" stroke="#333" stroke-width="0.85"/>
<polygon points="572.50,478.00 573.85,485.50 571.15,485.50" fill="#111"/>
<polygon points="572.50,631.00 571.15,623.50 573.85,623.50" fill="#111"/>
<line x1="554.5" y1="524" x2="554.5" y2="585" stroke="#333" stroke-width="0.85"/>
<polygon points="554.50,524.00 555.85,531.50 553.15,531.50" fill="#111"/>
<polygon points="554.50,585.00 553.15,577.50 555.85,577.50" fill="#111"/>
<text x="584" y="553.5" font-size="12.5" fill="#111" stroke="#111" stroke-width="0.3" text-anchor="middle" dominant-baseline="central" transform="rotate(-90 584 553.5)" >F</text>
<text x="566" y="553.5" font-size="12.5" fill="#111" stroke="#111" stroke-width="0.3" text-anchor="middle" dominant-baseline="central" transform="rotate(-90 566 553.5)" >E</text>
<text transform="rotate(-90 547.5 554)" x="547.5" y="554" text-anchor="middle" dominant-baseline="central" font-size="14" font-weight="bold" fill="#a51e8c">d<tspan font-size="7.5" fill="#111" font-weight="bold">H7</tspan></text>
<text x="528.5" y="569.5" font-size="8.5" fill="#111" stroke="#111" stroke-width="0.3" text-anchor="middle" dominant-baseline="central" >1.6</text>
<path d="M525 574.5 H534 L529.600 583.5 Z M533.500 575 L541 563.500" fill="none" stroke="#333" stroke-width="0.6"/>
<line x1="458" y1="414" x2="458" y2="452" stroke="#333" stroke-width="0.6"/>
<line x1="518" y1="414" x2="518" y2="452" stroke="#333" stroke-width="0.6"/>
<line x1="458" y1="417.6" x2="518" y2="417.6" stroke="#333" stroke-width="0.7"/>
<polygon points="458.00,417.60 465.50,416.25 465.50,418.95" fill="#111"/>
<polygon points="518.00,417.60 510.50,418.95 510.50,416.25" fill="#111"/>
<line x1="466.6" y1="433" x2="466.6" y2="464" stroke="#333" stroke-width="0.6"/>
<line x1="509" y1="433" x2="509" y2="464" stroke="#333" stroke-width="0.6"/>
<line x1="426" y1="436" x2="550" y2="436" stroke="#333" stroke-width="0.7"/>
<polygon points="458.00,436.00 450.50,437.35 450.50,434.65" fill="#111"/>
<polygon points="466.60,436.00 474.10,434.65 474.10,437.35" fill="#111"/>
<polygon points="509.00,436.00 501.50,437.35 501.50,434.65" fill="#111"/>
<polygon points="518.00,436.00 525.50,434.65 525.50,437.35" fill="#111"/>
<text x="489" y="410.5" font-size="13" fill="#111" stroke="#111" stroke-width="0.3" text-anchor="middle" dominant-baseline="central" >W</text>
<text x="488" y="429.5" font-size="13" fill="#111" stroke="#111" stroke-width="0.3" text-anchor="middle" dominant-baseline="central" >A</text>
<text x="438" y="429.5" font-size="12.5" fill="#111" stroke="#111" stroke-width="0.3" text-anchor="middle" dominant-baseline="central" >2.5</text>
<text x="538.5" y="429.5" font-size="12.5" fill="#111" stroke="#111" stroke-width="0.3" text-anchor="middle" dominant-baseline="central" >2.5</text>
<line x1="415.6" y1="624" x2="415.6" y2="679" stroke="#333" stroke-width="0.6"/>
<line x1="458.4" y1="658" x2="458.4" y2="679" stroke="#333" stroke-width="0.6"/>
<line x1="415.6" y1="676" x2="458.4" y2="676" stroke="#333" stroke-width="0.7"/>
<polygon points="415.60,676.00 423.10,674.65 423.10,677.35" fill="#111"/>
<polygon points="458.40,676.00 450.90,677.35 450.90,674.65" fill="#111"/>
<text x="437" y="669" font-size="13" fill="#111" stroke="#111" stroke-width="0.3" text-anchor="middle" dominant-baseline="central" >L</text>
<line x1="347" y1="439" x2="401" y2="439" stroke="#333" stroke-width="0.6"/>
<line x1="401" y1="439" x2="427" y2="491" stroke="#333" stroke-width="0.6"/>
<line x1="738" y1="554.5" x2="812" y2="554.5" stroke="#333" stroke-width="0.6" stroke-dasharray="12 2 2 2"/>
<line x1="671" y1="463.6" x2="744" y2="463.6" stroke="#333" stroke-width="0.6"/>
<line x1="744" y1="463.6" x2="812" y2="463.6" stroke="#333" stroke-width="0.6" stroke-dasharray="10 2 2 2"/>
<line x1="671" y1="645.4" x2="744" y2="645.4" stroke="#333" stroke-width="0.6"/>
<line x1="744" y1="645.4" x2="812" y2="645.4" stroke="#333" stroke-width="0.6" stroke-dasharray="10 2 2 2"/>
<line x1="689" y1="465.6" x2="752" y2="465.6" stroke="#333" stroke-width="0.6"/>
<line x1="689" y1="643.4" x2="752" y2="643.4" stroke="#333" stroke-width="0.6"/>
<line x1="707" y1="504.6" x2="748" y2="504.6" stroke="#333" stroke-width="0.6"/>
<line x1="707" y1="604.4" x2="748" y2="604.4" stroke="#333" stroke-width="0.6"/>
<line x1="726" y1="506" x2="760" y2="506" stroke="#777" stroke-width="0.6"/>
<line x1="726" y1="603" x2="760" y2="603" stroke="#777" stroke-width="0.6"/>
<line x1="674.5" y1="463.6" x2="674.5" y2="645.4" stroke="#333" stroke-width="0.85"/>
<polygon points="674.50,463.60 675.85,471.10 673.15,471.10" fill="#111"/>
<polygon points="674.50,645.40 673.15,637.90 675.85,637.90" fill="#111"/>
<line x1="692.5" y1="465.6" x2="692.5" y2="643.4" stroke="#333" stroke-width="0.85"/>
<polygon points="692.50,465.60 693.85,473.10 691.15,473.10" fill="#111"/>
<polygon points="692.50,643.40 691.15,635.90 693.85,635.90" fill="#111"/>
<line x1="710.5" y1="504.6" x2="710.5" y2="604.4" stroke="#333" stroke-width="0.85"/>
<polygon points="710.50,504.60 711.85,512.10 709.15,512.10" fill="#111"/>
<polygon points="710.50,604.40 709.15,596.90 711.85,596.90" fill="#111"/>
<line x1="729.5" y1="506" x2="729.5" y2="603" stroke="#333" stroke-width="0.85"/>
<polygon points="729.50,506.00 730.85,513.50 728.15,513.50" fill="#111"/>
<polygon points="729.50,603.00 728.15,595.50 730.85,595.50" fill="#111"/>
<text x="667.5" y="554.5" font-size="12.5" fill="#111" stroke="#111" stroke-width="0.3" text-anchor="middle" dominant-baseline="central" transform="rotate(-90 667.5 554.5)" >P.D.</text>
<text x="686" y="554.5" font-size="12.5" fill="#111" stroke="#111" stroke-width="0.3" text-anchor="middle" dominant-baseline="central" transform="rotate(-90 686 554.5)" >O.D.</text>
<text x="705" y="555" font-size="12.5" fill="#111" stroke="#111" stroke-width="0.3" text-anchor="middle" dominant-baseline="central" transform="rotate(-90 705 555)" >D+1</text>
<text x="723.5" y="554" font-size="12.5" fill="#111" stroke="#111" stroke-width="0.3" text-anchor="middle" dominant-baseline="central" transform="rotate(-90 723.5 554)" >D</text>
<line x1="805" y1="451.6" x2="881" y2="451.6" stroke="#333" stroke-width="0.6"/>
<line x1="805" y1="657.4" x2="881" y2="657.4" stroke="#333" stroke-width="0.6"/>
<line x1="805" y1="478" x2="862" y2="478" stroke="#333" stroke-width="0.6"/>
<line x1="805" y1="631" x2="862" y2="631" stroke="#333" stroke-width="0.6"/>
<line x1="805" y1="535.6" x2="843.5" y2="535.6" stroke="#333" stroke-width="0.6"/>
<line x1="805" y1="573.4" x2="843.5" y2="573.4" stroke="#333" stroke-width="0.6"/>
<line x1="877.5" y1="451.6" x2="877.5" y2="657.4" stroke="#333" stroke-width="0.85"/>
<polygon points="877.50,451.60 878.85,459.10 876.15,459.10" fill="#111"/>
<polygon points="877.50,657.40 876.15,649.90 878.85,649.90" fill="#111"/>
<line x1="859.5" y1="478" x2="859.5" y2="631" stroke="#333" stroke-width="0.85"/>
<polygon points="859.50,478.00 860.85,485.50 858.15,485.50" fill="#111"/>
<polygon points="859.50,631.00 858.15,623.50 860.85,623.50" fill="#111"/>
<line x1="840.5" y1="535.6" x2="840.5" y2="573.4" stroke="#333" stroke-width="0.6"/>
<polygon points="840.50,535.60 841.85,543.10 839.15,543.10" fill="#111"/>
<polygon points="840.50,573.40 839.15,565.90 841.85,565.90" fill="#111"/>
<text x="870.5" y="553.5" font-size="12.5" fill="#111" stroke="#111" stroke-width="0.3" text-anchor="middle" dominant-baseline="central" transform="rotate(-90 870.5 553.5)" >F</text>
<text x="852.5" y="553.5" font-size="12.5" fill="#111" stroke="#111" stroke-width="0.3" text-anchor="middle" dominant-baseline="central" transform="rotate(-90 852.5 553.5)" >E</text>
<text transform="rotate(-90 834 555)" x="834" y="555" text-anchor="middle" dominant-baseline="central" font-size="14" font-weight="bold" fill="#a51e8c">d<tspan font-size="7.5" fill="#111" font-weight="bold">H7</tspan></text>
<text x="813" y="559.5" font-size="8.5" fill="#111" stroke="#111" stroke-width="0.3" text-anchor="middle" dominant-baseline="central" >1.6</text>
<path d="M809.500 564.5 H818.500 L814 573.4 Z M818 565 L825.500 553.500" fill="none" stroke="#333" stroke-width="0.6"/>
<line x1="744.4" y1="414" x2="744.4" y2="452" stroke="#333" stroke-width="0.6"/>
<line x1="803.6" y1="414" x2="803.6" y2="452" stroke="#333" stroke-width="0.6"/>
<line x1="744.4" y1="417.6" x2="803.6" y2="417.6" stroke="#333" stroke-width="0.7"/>
<polygon points="744.40,417.60 751.90,416.25 751.90,418.95" fill="#111"/>
<polygon points="803.60,417.60 796.10,418.95 796.10,416.25" fill="#111"/>
<line x1="752.6" y1="433" x2="752.6" y2="464" stroke="#333" stroke-width="0.6"/>
<line x1="795" y1="433" x2="795" y2="464" stroke="#333" stroke-width="0.6"/>
<line x1="711" y1="436" x2="836" y2="436" stroke="#333" stroke-width="0.7"/>
<polygon points="744.40,436.00 736.90,437.35 736.90,434.65" fill="#111"/>
<polygon points="752.60,436.00 760.10,434.65 760.10,437.35" fill="#111"/>
<polygon points="795.00,436.00 787.50,437.35 787.50,434.65" fill="#111"/>
<polygon points="803.60,436.00 811.10,434.65 811.10,437.35" fill="#111"/>
<text x="775" y="410.5" font-size="13" fill="#111" stroke="#111" stroke-width="0.3" text-anchor="middle" dominant-baseline="central" >W</text>
<text x="774.5" y="429.5" font-size="13" fill="#111" stroke="#111" stroke-width="0.3" text-anchor="middle" dominant-baseline="central" >A</text>
<text x="723" y="429.5" font-size="12.5" fill="#111" stroke="#111" stroke-width="0.3" text-anchor="middle" dominant-baseline="central" >2.5</text>
<text x="824" y="429.5" font-size="12.5" fill="#111" stroke="#111" stroke-width="0.3" text-anchor="middle" dominant-baseline="central" >2.5</text>
<line x1="725" y1="491.6" x2="759" y2="491.6" stroke="#333" stroke-width="0.7"/>
<polygon points="744.40,491.60 736.90,492.95 736.90,490.25" fill="#111"/>
<polygon points="748.00,491.60 755.50,490.25 755.50,492.95" fill="#111"/>
<text x="729.5" y="485" font-size="13" fill="#111" stroke="#111" stroke-width="0.3" text-anchor="middle" dominant-baseline="central" >1</text>
<text x="879.5" y="382.5" font-size="8.5" fill="#111" stroke="#111" stroke-width="0.3" text-anchor="middle" dominant-baseline="central" >3.2</text>
<line x1="874" y1="388" x2="885" y2="388" stroke="#333" stroke-width="0.6"/>
<path d="M875 389.500 H884 L879.600 397.5 Z M884 388 L892 376" fill="none" stroke="#444" stroke-width="0.6"/></svg>
<div class="" style="left:8px;top:704px;width:984.5px;height:77.70000000000005px;background:#eeeeee;"></div>
<div class="" style="left:147.5px;top:801.08px;width:721.5px;height:19.379999999999995px;background:#fef9f0;"></div>
<div class="" style="left:147.5px;top:839.84px;width:721.5px;height:19.379999999999995px;background:#fef9f0;"></div>
<div class="" style="left:147.5px;top:878.6px;width:721.5px;height:19.379999999999995px;background:#fef9f0;"></div>
<div class="" style="left:147.5px;top:917.36px;width:721.5px;height:19.379999999999995px;background:#fef9f0;"></div>
<div class="" style="left:147.5px;top:956.12px;width:721.5px;height:19.379999999999995px;background:#fef9f0;"></div>
<div class="" style="left:147.5px;top:994.88px;width:721.5px;height:19.379999999999995px;background:#fef9f0;"></div>
<div class="" style="left:147.5px;top:1033.6399999999999px;width:721.5px;height:19.379999999999995px;background:#fef9f0;"></div>
<div class="" style="left:147.5px;top:1072.4px;width:721.5px;height:19.379999999999995px;background:#fef9f0;"></div>
<div class="" style="left:147.5px;top:1111.1599999999999px;width:721.5px;height:19.379999999999995px;background:#fef9f0;"></div>
<div class="" style="left:147.5px;top:1149.92px;width:721.5px;height:19.379999999999995px;background:#fef9f0;"></div>
<div class="l" style="left:8px;top:703.10px;width:984.5px;height:1.8px;background:#222"></div>
<div class="l" style="left:8px;top:780.75px;width:984.5px;height:1.9px;background:#222"></div>
<div class="l" style="left:8px;top:742.10px;width:219.7px;height:1px;background:#888"></div>
<div class="l" style="left:307.3px;top:723.70px;width:253.40000000000003px;height:1px;background:#888"></div>
<div class="l" style="left:307.3px;top:742.50px;width:253.40000000000003px;height:1px;background:#888"></div>
<div class="l" style="left:147.00px;top:742.6px;width:1px;height:39.10000000000002px;background:#888"></div>
<div class="l" style="left:227.20px;top:704px;width:1px;height:77.70000000000005px;background:#888"></div>
<div class="l" style="left:433.50px;top:743px;width:1px;height:38.700000000000045px;background:#888"></div>
<div class="l" style="left:637.00px;top:704px;width:1px;height:77.70000000000005px;background:#888"></div>
<div class="l" style="left:714.50px;top:704px;width:1px;height:77.70000000000005px;background:#888"></div>
<div class="l" style="left:792.00px;top:704px;width:1px;height:77.70000000000005px;background:#888"></div>
<div class="l" style="left:868.50px;top:704px;width:1px;height:77.70000000000005px;background:#888"></div>
<div class="l" style="left:930.50px;top:704px;width:1px;height:77.70000000000005px;background:#888"></div>
<div class="l" style="left:306.45px;top:704px;width:1.7px;height:465.29999999999995px;background:#222"></div>
<div class="l" style="left:559.85px;top:704px;width:1.7px;height:465.29999999999995px;background:#222"></div>
<div class="l" style="left:147.00px;top:781.7px;width:1px;height:387.5999999999999px;background:#666"></div>
<div class="l" style="left:227.20px;top:781.7px;width:1px;height:387.5999999999999px;background:#666"></div>
<div class="l" style="left:433.50px;top:781.7px;width:1px;height:387.5999999999999px;background:#888"></div>
<div class="l" style="left:637.00px;top:781.7px;width:1px;height:387.5999999999999px;background:#666"></div>
<div class="l" style="left:714.50px;top:781.7px;width:1px;height:387.5999999999999px;background:#666"></div>
<div class="l" style="left:792.00px;top:781.7px;width:1px;height:387.5999999999999px;background:#666"></div>
<div class="l" style="left:868.50px;top:781.7px;width:1px;height:387.5999999999999px;background:#666"></div>
<div class="l" style="left:8px;top:1168.30px;width:984.5px;height:2px;background:#222"></div>
<div class="l" style="left:147.5px;top:800.58px;width:80.19999999999999px;height:1px;background:#777"></div>
<div class="l" style="left:560.7px;top:800.58px;width:154.29999999999995px;height:1px;background:#777"></div>
<div class="l" style="left:147.5px;top:819.96px;width:80.19999999999999px;height:1px;background:#777"></div>
<div class="l" style="left:560.7px;top:819.96px;width:154.29999999999995px;height:1px;background:#777"></div>
<div class="l" style="left:147.5px;top:839.34px;width:80.19999999999999px;height:1px;background:#777"></div>
<div class="l" style="left:560.7px;top:839.34px;width:154.29999999999995px;height:1px;background:#777"></div>
<div class="l" style="left:147.5px;top:858.72px;width:80.19999999999999px;height:1px;background:#777"></div>
<div class="l" style="left:560.7px;top:858.72px;width:154.29999999999995px;height:1px;background:#777"></div>
<div class="l" style="left:147.5px;top:878.10px;width:80.19999999999999px;height:1px;background:#777"></div>
<div class="l" style="left:560.7px;top:878.10px;width:154.29999999999995px;height:1px;background:#777"></div>
<div class="l" style="left:147.5px;top:897.48px;width:80.19999999999999px;height:1px;background:#777"></div>
<div class="l" style="left:560.7px;top:897.48px;width:154.29999999999995px;height:1px;background:#777"></div>
<div class="l" style="left:147.5px;top:916.86px;width:80.19999999999999px;height:1px;background:#777"></div>
<div class="l" style="left:560.7px;top:916.86px;width:154.29999999999995px;height:1px;background:#777"></div>
<div class="l" style="left:147.5px;top:936.24px;width:80.19999999999999px;height:1px;background:#777"></div>
<div class="l" style="left:560.7px;top:936.24px;width:154.29999999999995px;height:1px;background:#777"></div>
<div class="l" style="left:147.5px;top:955.62px;width:80.19999999999999px;height:1px;background:#777"></div>
<div class="l" style="left:560.7px;top:955.62px;width:154.29999999999995px;height:1px;background:#777"></div>
<div class="l" style="left:147.5px;top:975.00px;width:80.19999999999999px;height:1px;background:#777"></div>
<div class="l" style="left:560.7px;top:975.00px;width:154.29999999999995px;height:1px;background:#777"></div>
<div class="l" style="left:147.5px;top:994.38px;width:80.19999999999999px;height:1px;background:#777"></div>
<div class="l" style="left:560.7px;top:994.38px;width:154.29999999999995px;height:1px;background:#777"></div>
<div class="l" style="left:147.5px;top:1013.76px;width:80.19999999999999px;height:1px;background:#777"></div>
<div class="l" style="left:560.7px;top:1013.76px;width:154.29999999999995px;height:1px;background:#777"></div>
<div class="l" style="left:147.5px;top:1033.14px;width:80.19999999999999px;height:1px;background:#777"></div>
<div class="l" style="left:560.7px;top:1033.14px;width:154.29999999999995px;height:1px;background:#777"></div>
<div class="l" style="left:147.5px;top:1052.52px;width:80.19999999999999px;height:1px;background:#777"></div>
<div class="l" style="left:560.7px;top:1052.52px;width:154.29999999999995px;height:1px;background:#777"></div>
<div class="l" style="left:147.5px;top:1071.90px;width:80.19999999999999px;height:1px;background:#777"></div>
<div class="l" style="left:560.7px;top:1071.90px;width:154.29999999999995px;height:1px;background:#777"></div>
<div class="l" style="left:147.5px;top:1091.28px;width:80.19999999999999px;height:1px;background:#777"></div>
<div class="l" style="left:560.7px;top:1091.28px;width:154.29999999999995px;height:1px;background:#777"></div>
<div class="l" style="left:147.5px;top:1110.66px;width:80.19999999999999px;height:1px;background:#777"></div>
<div class="l" style="left:560.7px;top:1110.66px;width:154.29999999999995px;height:1px;background:#777"></div>
<div class="l" style="left:147.5px;top:1130.04px;width:80.19999999999999px;height:1px;background:#777"></div>
<div class="l" style="left:560.7px;top:1130.04px;width:154.29999999999995px;height:1px;background:#777"></div>
<div class="l" style="left:147.5px;top:1149.42px;width:80.19999999999999px;height:1px;background:#777"></div>
<div class="l" style="left:560.7px;top:1149.42px;width:154.29999999999995px;height:1px;background:#777"></div>
<div class="t" style="left:68.0px;top:716.3px;width:100px;height:16.3px;line-height:16.3px;font-size:13.6px;color:#111;text-align:center;font-weight:bold;">型号</div>
<div class="t" style="left:28.0px;top:754.1px;width:100px;height:16.8px;line-height:16.8px;font-size:14px;color:#a51e8c;text-align:center;font-weight:bold;">代码</div>
<div class="t" style="left:137.5px;top:754.1px;width:100px;height:16.8px;line-height:16.8px;font-size:14px;color:#a51e8c;text-align:center;font-weight:bold;">齿数</div>
<div class="t" style="left:217.5px;top:725.6px;width:100px;height:16.8px;line-height:16.8px;font-size:14px;color:#a51e8c;text-align:center;font-weight:bold;">带轮</div>
<div class="t" style="left:217.5px;top:744.3px;width:100px;height:16.8px;line-height:16.8px;font-size:14px;color:#a51e8c;text-align:center;font-weight:bold;">形状</div>
<div class="t" style="left:304.0px;top:705.9px;width:260px;height:16.2px;line-height:16.2px;font-size:13.5px;color:#111;text-align:center;-webkit-text-stroke:0.35px #111;letter-spacing:-0.1px;">轴孔规格<span style="color:#a51e8c;-webkit-text-stroke:0.3px #a51e8c">d</span><span style="font-size:8.5px;font-weight:bold;-webkit-text-stroke:0">H7</span>(根据胀套孔径表选择)</div>
<div class="t" style="left:384.0px;top:725.5px;width:100px;height:16.3px;line-height:16.3px;font-size:13.6px;color:#111;text-align:center;-webkit-text-stroke:0.35px #111;">XL050</div>
<div class="t" style="left:320.5px;top:744.8px;width:100px;height:16.3px;line-height:16.3px;font-size:13.6px;color:#111;text-align:center;-webkit-text-stroke:0.35px #111;">E形</div>
<div class="t" style="left:320.5px;top:763.3px;width:100px;height:16.3px;line-height:16.3px;font-size:13.6px;color:#111;text-align:center;-webkit-text-stroke:0.35px #111;">CT胀套</div>
<div class="t" style="left:447.5px;top:744.8px;width:100px;height:16.3px;line-height:16.3px;font-size:13.6px;color:#111;text-align:center;-webkit-text-stroke:0.35px #111;">F形</div>
<div class="t" style="left:447.5px;top:763.3px;width:100px;height:16.3px;line-height:16.3px;font-size:13.6px;color:#111;text-align:center;-webkit-text-stroke:0.35px #111;">CH胀套</div>
<div class="t" style="left:559.5px;top:734.8px;width:80px;height:16.3px;line-height:16.3px;font-size:13.6px;color:#111;text-align:center;-webkit-text-stroke:0.35px #111;">P.D.</div>
<div class="t" style="left:636.5px;top:734.8px;width:80px;height:16.3px;line-height:16.3px;font-size:13.6px;color:#111;text-align:center;-webkit-text-stroke:0.35px #111;">O.D.</div>
<div class="t" style="left:713.5px;top:734.8px;width:80px;height:16.3px;line-height:16.3px;font-size:13.6px;color:#111;text-align:center;-webkit-text-stroke:0.35px #111;">F</div>
<div class="t" style="left:790.5px;top:734.8px;width:80px;height:16.3px;line-height:16.3px;font-size:13.6px;color:#111;text-align:center;-webkit-text-stroke:0.35px #111;">E</div>
<div class="t" style="left:860.0px;top:734.8px;width:80px;height:16.3px;line-height:16.3px;font-size:13.6px;color:#111;text-align:center;-webkit-text-stroke:0.35px #111;">A</div>
<div class="t" style="left:921.5px;top:734.8px;width:80px;height:16.3px;line-height:16.3px;font-size:13.6px;color:#111;text-align:center;-webkit-text-stroke:0.35px #111;">W</div>
<div class="t" style="left:157.5px;top:783.8px;width:60px;height:16.8px;line-height:16.8px;font-size:14px;color:#0d7cc9;text-align:center;font-weight:bold;">20</div>
<div class="t" style="left:568.5px;top:783.9px;width:70px;height:16.6px;line-height:16.6px;font-size:13.8px;color:#111;text-align:center;-webkit-text-stroke:0.35px #111;">32.34</div>
<div class="t" style="left:645.0px;top:783.9px;width:70px;height:16.6px;line-height:16.6px;font-size:13.8px;color:#111;text-align:center;-webkit-text-stroke:0.35px #111;">31.83</div>
<div class="t" style="left:157.5px;top:803.2px;width:60px;height:16.8px;line-height:16.8px;font-size:14px;color:#0d7cc9;text-align:center;font-weight:bold;">21</div>
<div class="t" style="left:568.5px;top:803.3px;width:70px;height:16.6px;line-height:16.6px;font-size:13.8px;color:#111;text-align:center;-webkit-text-stroke:0.35px #111;">33.96</div>
<div class="t" style="left:645.0px;top:803.3px;width:70px;height:16.6px;line-height:16.6px;font-size:13.8px;color:#111;text-align:center;-webkit-text-stroke:0.35px #111;">33.45</div>
<div class="t" style="left:157.5px;top:822.6px;width:60px;height:16.8px;line-height:16.8px;font-size:14px;color:#0d7cc9;text-align:center;font-weight:bold;">22</div>
<div class="t" style="left:568.5px;top:822.7px;width:70px;height:16.6px;line-height:16.6px;font-size:13.8px;color:#111;text-align:center;-webkit-text-stroke:0.35px #111;">35.57</div>
<div class="t" style="left:645.0px;top:822.7px;width:70px;height:16.6px;line-height:16.6px;font-size:13.8px;color:#111;text-align:center;-webkit-text-stroke:0.35px #111;">35.07</div>
<div class="t" style="left:157.5px;top:841.9px;width:60px;height:16.8px;line-height:16.8px;font-size:14px;color:#0d7cc9;text-align:center;font-weight:bold;">24</div>
<div class="t" style="left:568.5px;top:842.0px;width:70px;height:16.6px;line-height:16.6px;font-size:13.8px;color:#111;text-align:center;-webkit-text-stroke:0.35px #111;">38.81</div>
<div class="t" style="left:645.0px;top:842.0px;width:70px;height:16.6px;line-height:16.6px;font-size:13.8px;color:#111;text-align:center;-webkit-text-stroke:0.35px #111;">38.30</div>
<div class="t" style="left:157.5px;top:861.3px;width:60px;height:16.8px;line-height:16.8px;font-size:14px;color:#0d7cc9;text-align:center;font-weight:bold;">25</div>
<div class="t" style="left:568.5px;top:861.4px;width:70px;height:16.6px;line-height:16.6px;font-size:13.8px;color:#111;text-align:center;-webkit-text-stroke:0.35px #111;">40.43</div>
<div class="t" style="left:645.0px;top:861.4px;width:70px;height:16.6px;line-height:16.6px;font-size:13.8px;color:#111;text-align:center;-webkit-text-stroke:0.35px #111;">39.92</div>
<div class="t" style="left:157.5px;top:880.7px;width:60px;height:16.8px;line-height:16.8px;font-size:14px;color:#0d7cc9;text-align:center;font-weight:bold;">26</div>
<div class="t" style="left:568.5px;top:880.8px;width:70px;height:16.6px;line-height:16.6px;font-size:13.8px;color:#111;text-align:center;-webkit-text-stroke:0.35px #111;">42.04</div>
<div class="t" style="left:645.0px;top:880.8px;width:70px;height:16.6px;line-height:16.6px;font-size:13.8px;color:#111;text-align:center;-webkit-text-stroke:0.35px #111;">41.53</div>
<div class="t" style="left:157.5px;top:900.1px;width:60px;height:16.8px;line-height:16.8px;font-size:14px;color:#0d7cc9;text-align:center;font-weight:bold;">28</div>
<div class="t" style="left:568.5px;top:900.2px;width:70px;height:16.6px;line-height:16.6px;font-size:13.8px;color:#111;text-align:center;-webkit-text-stroke:0.35px #111;">45.28</div>
<div class="t" style="left:645.0px;top:900.2px;width:70px;height:16.6px;line-height:16.6px;font-size:13.8px;color:#111;text-align:center;-webkit-text-stroke:0.35px #111;">44.77</div>
<div class="t" style="left:157.5px;top:919.4px;width:60px;height:16.8px;line-height:16.8px;font-size:14px;color:#0d7cc9;text-align:center;font-weight:bold;">30</div>
<div class="t" style="left:568.5px;top:919.6px;width:70px;height:16.6px;line-height:16.6px;font-size:13.8px;color:#111;text-align:center;-webkit-text-stroke:0.35px #111;">48.51</div>
<div class="t" style="left:645.0px;top:919.6px;width:70px;height:16.6px;line-height:16.6px;font-size:13.8px;color:#111;text-align:center;-webkit-text-stroke:0.35px #111;">48.00</div>
<div class="t" style="left:157.5px;top:938.8px;width:60px;height:16.8px;line-height:16.8px;font-size:14px;color:#0d7cc9;text-align:center;font-weight:bold;">32</div>
<div class="t" style="left:568.5px;top:939.0px;width:70px;height:16.6px;line-height:16.6px;font-size:13.8px;color:#111;text-align:center;-webkit-text-stroke:0.35px #111;">51.74</div>
<div class="t" style="left:645.0px;top:939.0px;width:70px;height:16.6px;line-height:16.6px;font-size:13.8px;color:#111;text-align:center;-webkit-text-stroke:0.35px #111;">51.24</div>
<div class="t" style="left:157.5px;top:958.2px;width:60px;height:16.8px;line-height:16.8px;font-size:14px;color:#0d7cc9;text-align:center;font-weight:bold;">34</div>
<div class="t" style="left:568.5px;top:958.3px;width:70px;height:16.6px;line-height:16.6px;font-size:13.8px;color:#111;text-align:center;-webkit-text-stroke:0.35px #111;">54.98</div>
<div class="t" style="left:645.0px;top:958.3px;width:70px;height:16.6px;line-height:16.6px;font-size:13.8px;color:#111;text-align:center;-webkit-text-stroke:0.35px #111;">54.47</div>
<div class="t" style="left:157.5px;top:977.6px;width:60px;height:16.8px;line-height:16.8px;font-size:14px;color:#0d7cc9;text-align:center;font-weight:bold;">36</div>
<div class="t" style="left:568.5px;top:977.7px;width:70px;height:16.6px;line-height:16.6px;font-size:13.8px;color:#111;text-align:center;-webkit-text-stroke:0.35px #111;">58.21</div>
<div class="t" style="left:645.0px;top:977.7px;width:70px;height:16.6px;line-height:16.6px;font-size:13.8px;color:#111;text-align:center;-webkit-text-stroke:0.35px #111;">57.70</div>
<div class="t" style="left:157.5px;top:997.0px;width:60px;height:16.8px;line-height:16.8px;font-size:14px;color:#0d7cc9;text-align:center;font-weight:bold;">38</div>
<div class="t" style="left:568.5px;top:997.1px;width:70px;height:16.6px;line-height:16.6px;font-size:13.8px;color:#111;text-align:center;-webkit-text-stroke:0.35px #111;">61.45</div>
<div class="t" style="left:645.0px;top:997.1px;width:70px;height:16.6px;line-height:16.6px;font-size:13.8px;color:#111;text-align:center;-webkit-text-stroke:0.35px #111;">60.94</div>
<div class="t" style="left:157.5px;top:1016.4px;width:60px;height:16.8px;line-height:16.8px;font-size:14px;color:#0d7cc9;text-align:center;font-weight:bold;">40</div>
<div class="t" style="left:568.5px;top:1016.5px;width:70px;height:16.6px;line-height:16.6px;font-size:13.8px;color:#111;text-align:center;-webkit-text-stroke:0.35px #111;">64.68</div>
<div class="t" style="left:645.0px;top:1016.5px;width:70px;height:16.6px;line-height:16.6px;font-size:13.8px;color:#111;text-align:center;-webkit-text-stroke:0.35px #111;">64.17</div>
<div class="t" style="left:157.5px;top:1035.7px;width:60px;height:16.8px;line-height:16.8px;font-size:14px;color:#0d7cc9;text-align:center;font-weight:bold;">42</div>
<div class="t" style="left:568.5px;top:1035.8px;width:70px;height:16.6px;line-height:16.6px;font-size:13.8px;color:#111;text-align:center;-webkit-text-stroke:0.35px #111;">67.91</div>
<div class="t" style="left:645.0px;top:1035.8px;width:70px;height:16.6px;line-height:16.6px;font-size:13.8px;color:#111;text-align:center;-webkit-text-stroke:0.35px #111;">67.41</div>
<div class="t" style="left:157.5px;top:1055.1px;width:60px;height:16.8px;line-height:16.8px;font-size:14px;color:#0d7cc9;text-align:center;font-weight:bold;">44</div>
<div class="t" style="left:568.5px;top:1055.2px;width:70px;height:16.6px;line-height:16.6px;font-size:13.8px;color:#111;text-align:center;-webkit-text-stroke:0.35px #111;">71.15</div>
<div class="t" style="left:645.0px;top:1055.2px;width:70px;height:16.6px;line-height:16.6px;font-size:13.8px;color:#111;text-align:center;-webkit-text-stroke:0.35px #111;">70.64</div>
<div class="t" style="left:157.5px;top:1074.5px;width:60px;height:16.8px;line-height:16.8px;font-size:14px;color:#0d7cc9;text-align:center;font-weight:bold;">46</div>
<div class="t" style="left:568.5px;top:1074.6px;width:70px;height:16.6px;line-height:16.6px;font-size:13.8px;color:#111;text-align:center;-webkit-text-stroke:0.35px #111;">74.38</div>
<div class="t" style="left:645.0px;top:1074.6px;width:70px;height:16.6px;line-height:16.6px;font-size:13.8px;color:#111;text-align:center;-webkit-text-stroke:0.35px #111;">73.87</div>
<div class="t" style="left:157.5px;top:1093.9px;width:60px;height:16.8px;line-height:16.8px;font-size:14px;color:#0d7cc9;text-align:center;font-weight:bold;">48</div>
<div class="t" style="left:568.5px;top:1094.0px;width:70px;height:16.6px;line-height:16.6px;font-size:13.8px;color:#111;text-align:center;-webkit-text-stroke:0.35px #111;">77.62</div>
<div class="t" style="left:645.0px;top:1094.0px;width:70px;height:16.6px;line-height:16.6px;font-size:13.8px;color:#111;text-align:center;-webkit-text-stroke:0.35px #111;">77.11</div>
<div class="t" style="left:157.5px;top:1113.2px;width:60px;height:16.8px;line-height:16.8px;font-size:14px;color:#0d7cc9;text-align:center;font-weight:bold;">50</div>
<div class="t" style="left:568.5px;top:1113.4px;width:70px;height:16.6px;line-height:16.6px;font-size:13.8px;color:#111;text-align:center;-webkit-text-stroke:0.35px #111;">80.85</div>
<div class="t" style="left:645.0px;top:1113.4px;width:70px;height:16.6px;line-height:16.6px;font-size:13.8px;color:#111;text-align:center;-webkit-text-stroke:0.35px #111;">80.34</div>
<div class="t" style="left:157.5px;top:1132.6px;width:60px;height:16.8px;line-height:16.8px;font-size:14px;color:#0d7cc9;text-align:center;font-weight:bold;">60</div>
<div class="t" style="left:568.5px;top:1132.8px;width:70px;height:16.6px;line-height:16.6px;font-size:13.8px;color:#111;text-align:center;-webkit-text-stroke:0.35px #111;">97.02</div>
<div class="t" style="left:645.0px;top:1132.8px;width:70px;height:16.6px;line-height:16.6px;font-size:13.8px;color:#111;text-align:center;-webkit-text-stroke:0.35px #111;">96.51</div>
<div class="t" style="left:157.5px;top:1152.0px;width:60px;height:16.8px;line-height:16.8px;font-size:14px;color:#0d7cc9;text-align:center;font-weight:bold;">72</div>
<div class="t" style="left:564.7px;top:1152.1px;width:70px;height:16.6px;line-height:16.6px;font-size:13.8px;color:#111;text-align:center;-webkit-text-stroke:0.35px #111;">116.43</div>
<div class="t" style="left:641.2px;top:1152.1px;width:70px;height:16.6px;line-height:16.6px;font-size:13.8px;color:#111;text-align:center;-webkit-text-stroke:0.35px #111;">115.92</div>
<div class="t" style="left:727.5px;top:794.3px;width:60px;height:16.6px;line-height:16.6px;font-size:13.8px;color:#111;text-align:center;-webkit-text-stroke:0.35px #111;">40</div>
<div class="t" style="left:804.0px;top:794.3px;width:60px;height:16.6px;line-height:16.6px;font-size:13.8px;color:#111;text-align:center;-webkit-text-stroke:0.35px #111;">27</div>
<div class="l" style="left:715px;top:819.96px;width:154px;height:1px;background:#777"></div>
<div class="t" style="left:727.5px;top:833.1px;width:60px;height:16.6px;line-height:16.6px;font-size:13.8px;color:#111;text-align:center;-webkit-text-stroke:0.35px #111;">45</div>
<div class="t" style="left:804.0px;top:833.1px;width:60px;height:16.6px;line-height:16.6px;font-size:13.8px;color:#111;text-align:center;-webkit-text-stroke:0.35px #111;">30</div>
<div class="l" style="left:715px;top:858.72px;width:154px;height:1px;background:#777"></div>
<div class="t" style="left:727.5px;top:871.8px;width:60px;height:16.6px;line-height:16.6px;font-size:13.8px;color:#111;text-align:center;-webkit-text-stroke:0.35px #111;">48</div>
<div class="t" style="left:804.0px;top:871.8px;width:60px;height:16.6px;line-height:16.6px;font-size:13.8px;color:#111;text-align:center;-webkit-text-stroke:0.35px #111;">35</div>
<div class="l" style="left:715px;top:897.48px;width:154px;height:1px;background:#777"></div>
<div class="t" style="left:727.5px;top:910.6px;width:60px;height:16.6px;line-height:16.6px;font-size:13.8px;color:#111;text-align:center;-webkit-text-stroke:0.35px #111;">55</div>
<div class="t" style="left:804.0px;top:910.6px;width:60px;height:16.6px;line-height:16.6px;font-size:13.8px;color:#111;text-align:center;-webkit-text-stroke:0.35px #111;">40</div>
<div class="l" style="left:715px;top:936.24px;width:154px;height:1px;background:#777"></div>
<div class="t" style="left:727.5px;top:949.3px;width:60px;height:16.6px;line-height:16.6px;font-size:13.8px;color:#111;text-align:center;-webkit-text-stroke:0.35px #111;">61</div>
<div class="t" style="left:804.0px;top:949.3px;width:60px;height:16.6px;line-height:16.6px;font-size:13.8px;color:#111;text-align:center;-webkit-text-stroke:0.35px #111;">45</div>
<div class="l" style="left:715px;top:975.00px;width:154px;height:1px;background:#777"></div>
<div class="t" style="left:727.5px;top:988.1px;width:60px;height:16.6px;line-height:16.6px;font-size:13.8px;color:#111;text-align:center;-webkit-text-stroke:0.35px #111;">67</div>
<div class="t" style="left:804.0px;top:988.1px;width:60px;height:16.6px;line-height:16.6px;font-size:13.8px;color:#111;text-align:center;-webkit-text-stroke:0.35px #111;">50</div>
<div class="l" style="left:715px;top:1013.76px;width:154px;height:1px;background:#777"></div>
<div class="t" style="left:727.5px;top:1026.9px;width:60px;height:16.6px;line-height:16.6px;font-size:13.8px;color:#111;text-align:center;-webkit-text-stroke:0.35px #111;">74</div>
<div class="t" style="left:804.0px;top:1026.9px;width:60px;height:16.6px;line-height:16.6px;font-size:13.8px;color:#111;text-align:center;-webkit-text-stroke:0.35px #111;">58</div>
<div class="l" style="left:715px;top:1052.52px;width:154px;height:1px;background:#777"></div>
<div class="t" style="left:727.5px;top:1065.6px;width:60px;height:16.6px;line-height:16.6px;font-size:13.8px;color:#111;text-align:center;-webkit-text-stroke:0.35px #111;">80</div>
<div class="t" style="left:804.0px;top:1065.6px;width:60px;height:16.6px;line-height:16.6px;font-size:13.8px;color:#111;text-align:center;-webkit-text-stroke:0.35px #111;">60</div>
<div class="l" style="left:715px;top:1091.28px;width:154px;height:1px;background:#777"></div>
<div class="t" style="left:727.5px;top:1104.4px;width:60px;height:16.6px;line-height:16.6px;font-size:13.8px;color:#111;text-align:center;-webkit-text-stroke:0.35px #111;">87</div>
<div class="t" style="left:804.0px;top:1104.4px;width:60px;height:16.6px;line-height:16.6px;font-size:13.8px;color:#111;text-align:center;-webkit-text-stroke:0.35px #111;">67</div>
<div class="l" style="left:715px;top:1130.04px;width:154px;height:1px;background:#777"></div>
<div class="t" style="left:727.5px;top:1133.5px;width:60px;height:16.6px;line-height:16.6px;font-size:13.8px;color:#111;text-align:center;-webkit-text-stroke:0.35px #111;">104</div>
<div class="t" style="left:804.0px;top:1133.5px;width:60px;height:16.6px;line-height:16.6px;font-size:13.8px;color:#111;text-align:center;-webkit-text-stroke:0.35px #111;">84</div>
<div class="l" style="left:715px;top:1149.42px;width:154px;height:1px;background:#777"></div>
<div class="t" style="left:727.5px;top:1152.8px;width:60px;height:16.6px;line-height:16.6px;font-size:13.8px;color:#111;text-align:center;-webkit-text-stroke:0.35px #111;">123</div>
<div class="t" style="left:804.0px;top:1152.8px;width:60px;height:16.6px;line-height:16.6px;font-size:13.8px;color:#111;text-align:center;-webkit-text-stroke:0.35px #111;">102</div>
<div class="l" style="left:227.7px;top:819.96px;width:79.60000000000002px;height:1px;background:#777"></div>
<div class="t" style="left:247.5px;top:793.0px;width:40px;height:16.8px;line-height:16.8px;font-size:14px;color:#0d7cc9;text-align:center;font-weight:bold;">E</div>
<div class="t" style="left:247.5px;top:980.6px;width:40px;height:16.8px;line-height:16.8px;font-size:14px;color:#0d7cc9;text-align:center;font-weight:bold;">E</div>
<div class="t" style="left:247.5px;top:995.1px;width:40px;height:16.8px;line-height:16.8px;font-size:14px;color:#0d7cc9;text-align:center;font-weight:bold;">F</div>
<div class="t" style="left:310.5px;top:793.0px;width:120px;height:16.8px;line-height:16.8px;font-size:14px;color:#0d7cc9;text-align:center;font-weight:bold;">8</div>
<div class="l" style="left:489.5px;top:800.38px;width:15.5px;height:2px;background:#222"></div>
<div class="l" style="left:307.3px;top:819.96px;width:253.40000000000003px;height:1px;background:#777"></div>
<div class="t" style="left:310.5px;top:831.7px;width:120px;height:16.8px;line-height:16.8px;font-size:14px;color:#0d7cc9;text-align:center;font-weight:bold;">8</div>
<div class="t" style="left:437.5px;top:828.7px;width:120px;height:16.8px;line-height:16.8px;font-size:14px;color:#0d7cc9;text-align:center;font-weight:bold;">8</div>
<div class="l" style="left:307.3px;top:858.72px;width:253.40000000000003px;height:1px;background:#777"></div>
<div class="t" style="left:310.5px;top:870.5px;width:120px;height:16.8px;line-height:16.8px;font-size:14px;color:#0d7cc9;text-align:center;font-weight:bold;">8·10·11·12</div>
<div class="t" style="left:437.5px;top:870.5px;width:120px;height:16.8px;line-height:16.8px;font-size:14px;color:#0d7cc9;text-align:center;font-weight:bold;">8·10·11</div>
<div class="l" style="left:307.3px;top:897.48px;width:253.40000000000003px;height:1px;background:#777"></div>
<div class="t" style="left:310.5px;top:899.6px;width:120px;height:16.8px;line-height:16.8px;font-size:14px;color:#0d7cc9;text-align:center;font-weight:bold;">8~17</div>
<div class="t" style="left:437.5px;top:899.6px;width:120px;height:16.8px;line-height:16.8px;font-size:14px;color:#0d7cc9;text-align:center;font-weight:bold;">8~12</div>
<div class="l" style="left:307.3px;top:916.86px;width:253.40000000000003px;height:1px;background:#777"></div>
<div class="t" style="left:310.5px;top:918.9px;width:120px;height:16.8px;line-height:16.8px;font-size:14px;color:#0d7cc9;text-align:center;font-weight:bold;">10~17</div>
<div class="t" style="left:437.5px;top:918.9px;width:120px;height:16.8px;line-height:16.8px;font-size:14px;color:#0d7cc9;text-align:center;font-weight:bold;">10~12</div>
<div class="l" style="left:307.3px;top:936.24px;width:253.40000000000003px;height:1px;background:#777"></div>
<div class="t" style="left:310.5px;top:948.0px;width:120px;height:16.8px;line-height:16.8px;font-size:14px;color:#0d7cc9;text-align:center;font-weight:bold;">10~18</div>
<div class="t" style="left:437.5px;top:948.0px;width:120px;height:16.8px;line-height:16.8px;font-size:14px;color:#0d7cc9;text-align:center;font-weight:bold;">10~12</div>
<div class="l" style="left:307.3px;top:975.00px;width:253.40000000000003px;height:1px;background:#777"></div>
<div class="t" style="left:310.5px;top:986.8px;width:120px;height:16.8px;line-height:16.8px;font-size:14px;color:#0d7cc9;text-align:center;font-weight:bold;">10~22</div>
<div class="t" style="left:437.5px;top:986.8px;width:120px;height:16.8px;line-height:16.8px;font-size:14px;color:#0d7cc9;text-align:center;font-weight:bold;">10~12</div>
<div class="l" style="left:307.3px;top:1013.76px;width:253.40000000000003px;height:1px;background:#777"></div>
<div class="t" style="left:310.5px;top:1025.5px;width:120px;height:16.8px;line-height:16.8px;font-size:14px;color:#0d7cc9;text-align:center;font-weight:bold;">10~30</div>
<div class="t" style="left:437.5px;top:1025.5px;width:120px;height:16.8px;line-height:16.8px;font-size:14px;color:#0d7cc9;text-align:center;font-weight:bold;">10~12</div>
<div class="l" style="left:307.3px;top:1052.52px;width:253.40000000000003px;height:1px;background:#777"></div>
<div class="t" style="left:310.5px;top:1102.8px;width:120px;height:16.8px;line-height:16.8px;font-size:14px;color:#0d7cc9;text-align:center;font-weight:bold;">10~32</div>
<div class="t" style="left:437.5px;top:1102.8px;width:120px;height:16.8px;line-height:16.8px;font-size:14px;color:#0d7cc9;text-align:center;font-weight:bold;">10~12</div>
<div class="t" style="left:4.0px;top:951.5px;width:130px;height:17.5px;line-height:17.5px;font-size:14.6px;color:#0d7cc9;text-align:center;font-weight:bold;">VJBAD-XL050</div>
<div class="t" style="left:4.0px;top:976.5px;width:130px;height:17.5px;line-height:17.5px;font-size:14.6px;color:#0d7cc9;text-align:center;font-weight:bold;">VJBAC-XL050</div>
<div class="t" style="left:891.0px;top:947.3px;width:80px;height:16.3px;line-height:16.3px;font-size:13.6px;color:#0d7cc9;text-align:center;font-weight:bold;">XL050</div>
<div class="t" style="left:891.0px;top:962.6px;width:80px;height:15.8px;line-height:15.8px;font-size:13.2px;color:#111;text-align:center;-webkit-text-stroke:0.35px #111;letter-spacing:0.3px;">A:14</div>
<div class="t" style="left:891.0px;top:978.1px;width:80px;height:15.8px;line-height:15.8px;font-size:13.2px;color:#111;text-align:center;-webkit-text-stroke:0.35px #111;letter-spacing:0.3px;">W:19</div>
<div class="" style="left:9px;top:1179px;width:15px;height:13px;background:#e5127f;"></div>
<div class="t" style="left:29px;top:1176.5px;height:18px;line-height:18px;font-size:14.4px;font-weight:bold;color:#111;">胀套孔径尺寸</div>
<div class="" style="left:8px;top:1196.4px;width:398.5px;height:35.19999999999982px;background:#eeeeee;"></div>
<div class="" style="left:8px;top:1249.5294117647059px;width:398.5px;height:17.929411764705893px;background:#fef9f0;"></div>
<div class="" style="left:8px;top:1285.3882352941175px;width:398.5px;height:17.929411764705893px;background:#fef9f0;"></div>
<div class="" style="left:8px;top:1321.2470588235294px;width:398.5px;height:17.929411764705893px;background:#fef9f0;"></div>
<div class="" style="left:8px;top:1357.105882352941px;width:398.5px;height:17.929411764705893px;background:#fef9f0;"></div>
<div class="" style="left:8px;top:1392.964705882353px;width:398.5px;height:17.929411764705893px;background:#fef9f0;"></div>
<div class="" style="left:8px;top:1428.8235294117646px;width:398.5px;height:17.929411764705893px;background:#fef9f0;"></div>
<div class="" style="left:8px;top:1464.6823529411765px;width:398.5px;height:17.929411764705893px;background:#fef9f0;"></div>
<div class="" style="left:8px;top:1500.5411764705882px;width:398.5px;height:17.929411764705893px;background:#fef9f0;"></div>
<div class="l" style="left:8px;top:1195.40px;width:398.5px;height:2px;background:#222"></div>
<div class="l" style="left:8px;top:1230.85px;width:398.5px;height:1.5px;background:#222"></div>
<div class="l" style="left:8px;top:1535.40px;width:398.5px;height:2px;background:#222"></div>
<div class="l" style="left:75.8px;top:1213.50px;width:263.59999999999997px;height:1px;background:#888"></div>
<div class="l" style="left:74.95px;top:1196.4px;width:1.7px;height:340.0px;background:#222"></div>
<div class="l" style="left:141.50px;top:1214px;width:1px;height:322.4000000000001px;background:#888"></div>
<div class="l" style="left:206.70px;top:1196.4px;width:1px;height:340.0px;background:#888"></div>
<div class="l" style="left:272.80px;top:1214px;width:1px;height:322.4000000000001px;background:#888"></div>
<div class="l" style="left:338.90px;top:1196.4px;width:1px;height:340.0px;background:#888"></div>
<div class="t" style="left:12.0px;top:1205.1px;width:60px;height:16.8px;line-height:16.8px;font-size:14px;color:#111;text-align:center;-webkit-text-stroke:0.35px #111;"><span style="color:#a51e8c;font-size:14px">d</span><span style="font-size:8.5px;font-weight:bold">H7</span></div>
<div class="t" style="left:71.5px;top:1197.4px;width:140px;height:15.8px;line-height:15.8px;font-size:13.2px;color:#111;text-align:center;font-weight:bold;letter-spacing:-0.3px;">容许最大扭矩N·m</div>
<div class="t" style="left:253.3px;top:1197.1px;width:40px;height:16.3px;line-height:16.3px;font-size:13.6px;color:#111;text-align:center;-webkit-text-stroke:0.35px #111;">D</div>
<div class="t" style="left:348.0px;top:1206.1px;width:50px;height:15.8px;line-height:15.8px;font-size:13.2px;color:#111;text-align:center;-webkit-text-stroke:0.35px #111;">(L)</div>
<div class="t" style="left:69.0px;top:1215.1px;width:80px;height:15.8px;line-height:15.8px;font-size:13.2px;color:#111;text-align:center;-webkit-text-stroke:0.35px #111;letter-spacing:-0.3px;">CT胀套</div>
<div class="t" style="left:134.5px;top:1215.1px;width:80px;height:15.8px;line-height:15.8px;font-size:13.2px;color:#111;text-align:center;-webkit-text-stroke:0.35px #111;letter-spacing:-0.3px;">CH胀套</div>
<div class="t" style="left:200.3px;top:1215.1px;width:80px;height:15.8px;line-height:15.8px;font-size:13.2px;color:#111;text-align:center;-webkit-text-stroke:0.35px #111;letter-spacing:-0.3px;">CT胀套</div>
<div class="t" style="left:266.3px;top:1215.1px;width:80px;height:15.8px;line-height:15.8px;font-size:13.2px;color:#111;text-align:center;-webkit-text-stroke:0.35px #111;letter-spacing:-0.3px;">CH胀套</div>
<div class="t" style="left:17.0px;top:1232.6px;width:50px;height:16.8px;line-height:16.8px;font-size:14px;color:#0d7cc9;text-align:center;font-weight:bold;">8</div>
<div class="t" style="left:83.0px;top:1232.6px;width:50px;height:16.8px;line-height:16.8px;font-size:14px;color:#111;text-align:center;-webkit-text-stroke:0.35px #111;">16</div>
<div class="t" style="left:211.0px;top:1232.6px;width:50px;height:16.8px;line-height:16.8px;font-size:14px;color:#111;text-align:center;-webkit-text-stroke:0.35px #111;">25.5</div>
<div class="t" style="left:152.0px;top:1232.6px;width:50px;height:16.8px;line-height:16.8px;font-size:14px;color:#111;text-align:center;-webkit-text-stroke:0.35px #111;">8.5</div>
<div class="t" style="left:282.0px;top:1232.6px;width:50px;height:16.8px;line-height:16.8px;font-size:14px;color:#111;text-align:center;-webkit-text-stroke:0.35px #111;">24.5</div>
<div class="t" style="left:17.0px;top:1250.5px;width:50px;height:16.8px;line-height:16.8px;font-size:14px;color:#0d7cc9;text-align:center;font-weight:bold;">10</div>
<div class="t" style="left:83.0px;top:1250.5px;width:50px;height:16.8px;line-height:16.8px;font-size:14px;color:#111;text-align:center;-webkit-text-stroke:0.35px #111;">39</div>
<div class="t" style="left:211.0px;top:1250.5px;width:50px;height:16.8px;line-height:16.8px;font-size:14px;color:#111;text-align:center;-webkit-text-stroke:0.35px #111;">30</div>
<div class="t" style="left:145.0px;top:1250.5px;width:50px;height:16.8px;line-height:16.8px;font-size:14px;color:#111;text-align:center;-webkit-text-stroke:0.35px #111;">18</div>
<div class="t" style="left:276.0px;top:1250.5px;width:50px;height:16.8px;line-height:16.8px;font-size:14px;color:#111;text-align:center;-webkit-text-stroke:0.35px #111;">29</div>
<div class="t" style="left:17.0px;top:1268.4px;width:50px;height:16.8px;line-height:16.8px;font-size:14px;color:#0d7cc9;text-align:center;font-weight:bold;">11</div>
<div class="t" style="left:83.0px;top:1268.4px;width:50px;height:16.8px;line-height:16.8px;font-size:14px;color:#111;text-align:center;-webkit-text-stroke:0.35px #111;">43</div>
<div class="t" style="left:211.0px;top:1268.4px;width:50px;height:16.8px;line-height:16.8px;font-size:14px;color:#111;text-align:center;-webkit-text-stroke:0.35px #111;">31</div>
<div class="t" style="left:145.0px;top:1268.4px;width:50px;height:16.8px;line-height:16.8px;font-size:14px;color:#111;text-align:center;-webkit-text-stroke:0.35px #111;">20</div>
<div class="t" style="left:276.0px;top:1268.4px;width:50px;height:16.8px;line-height:16.8px;font-size:14px;color:#111;text-align:center;-webkit-text-stroke:0.35px #111;">30</div>
<div class="t" style="left:17.0px;top:1286.4px;width:50px;height:16.8px;line-height:16.8px;font-size:14px;color:#0d7cc9;text-align:center;font-weight:bold;">12</div>
<div class="t" style="left:83.0px;top:1286.4px;width:50px;height:16.8px;line-height:16.8px;font-size:14px;color:#111;text-align:center;-webkit-text-stroke:0.35px #111;">48</div>
<div class="t" style="left:211.0px;top:1286.4px;width:50px;height:16.8px;line-height:16.8px;font-size:14px;color:#111;text-align:center;-webkit-text-stroke:0.35px #111;">32</div>
<div class="t" style="left:145.0px;top:1286.4px;width:50px;height:16.8px;line-height:16.8px;font-size:14px;color:#111;text-align:center;-webkit-text-stroke:0.35px #111;">23</div>
<div class="t" style="left:276.0px;top:1286.4px;width:50px;height:16.8px;line-height:16.8px;font-size:14px;color:#111;text-align:center;-webkit-text-stroke:0.35px #111;">31</div>
<div class="t" style="left:17.0px;top:1304.3px;width:50px;height:16.8px;line-height:16.8px;font-size:14px;color:#0d7cc9;text-align:center;font-weight:bold;">14</div>
<div class="t" style="left:83.0px;top:1304.3px;width:50px;height:16.8px;line-height:16.8px;font-size:14px;color:#111;text-align:center;-webkit-text-stroke:0.35px #111;">73</div>
<div class="t" style="left:211.0px;top:1304.3px;width:50px;height:16.8px;line-height:16.8px;font-size:14px;color:#111;text-align:center;-webkit-text-stroke:0.35px #111;">35</div>
<div class="t" style="left:17.0px;top:1322.2px;width:50px;height:16.8px;line-height:16.8px;font-size:14px;color:#0d7cc9;text-align:center;font-weight:bold;">15</div>
<div class="t" style="left:83.0px;top:1322.2px;width:50px;height:16.8px;line-height:16.8px;font-size:14px;color:#111;text-align:center;-webkit-text-stroke:0.35px #111;">78</div>
<div class="t" style="left:211.0px;top:1322.2px;width:50px;height:16.8px;line-height:16.8px;font-size:14px;color:#111;text-align:center;-webkit-text-stroke:0.35px #111;">36</div>
<div class="t" style="left:17.0px;top:1340.1px;width:50px;height:16.8px;line-height:16.8px;font-size:14px;color:#0d7cc9;text-align:center;font-weight:bold;">16</div>
<div class="t" style="left:83.0px;top:1340.1px;width:50px;height:16.8px;line-height:16.8px;font-size:14px;color:#111;text-align:center;-webkit-text-stroke:0.35px #111;">83</div>
<div class="t" style="left:211.0px;top:1340.1px;width:50px;height:16.8px;line-height:16.8px;font-size:14px;color:#111;text-align:center;-webkit-text-stroke:0.35px #111;">37</div>
<div class="t" style="left:17.0px;top:1358.1px;width:50px;height:16.8px;line-height:16.8px;font-size:14px;color:#0d7cc9;text-align:center;font-weight:bold;">17</div>
<div class="t" style="left:83.0px;top:1358.1px;width:50px;height:16.8px;line-height:16.8px;font-size:14px;color:#111;text-align:center;-webkit-text-stroke:0.35px #111;">88</div>
<div class="t" style="left:211.0px;top:1358.1px;width:50px;height:16.8px;line-height:16.8px;font-size:14px;color:#111;text-align:center;-webkit-text-stroke:0.35px #111;">38</div>
<div class="t" style="left:17.0px;top:1376.0px;width:50px;height:16.8px;line-height:16.8px;font-size:14px;color:#0d7cc9;text-align:center;font-weight:bold;">18</div>
<div class="t" style="left:83.0px;top:1376.0px;width:50px;height:16.8px;line-height:16.8px;font-size:14px;color:#111;text-align:center;-webkit-text-stroke:0.35px #111;">154</div>
<div class="t" style="left:211.0px;top:1376.0px;width:50px;height:16.8px;line-height:16.8px;font-size:14px;color:#111;text-align:center;-webkit-text-stroke:0.35px #111;">43</div>
<div class="t" style="left:17.0px;top:1393.9px;width:50px;height:16.8px;line-height:16.8px;font-size:14px;color:#0d7cc9;text-align:center;font-weight:bold;">19</div>
<div class="t" style="left:83.0px;top:1393.9px;width:50px;height:16.8px;line-height:16.8px;font-size:14px;color:#111;text-align:center;-webkit-text-stroke:0.35px #111;">163</div>
<div class="t" style="left:211.0px;top:1393.9px;width:50px;height:16.8px;line-height:16.8px;font-size:14px;color:#111;text-align:center;-webkit-text-stroke:0.35px #111;">45</div>
<div class="t" style="left:17.0px;top:1411.9px;width:50px;height:16.8px;line-height:16.8px;font-size:14px;color:#0d7cc9;text-align:center;font-weight:bold;">20</div>
<div class="t" style="left:83.0px;top:1411.9px;width:50px;height:16.8px;line-height:16.8px;font-size:14px;color:#111;text-align:center;-webkit-text-stroke:0.35px #111;">171</div>
<div class="t" style="left:211.0px;top:1411.9px;width:50px;height:16.8px;line-height:16.8px;font-size:14px;color:#111;text-align:center;-webkit-text-stroke:0.35px #111;">46</div>
<div class="t" style="left:17.0px;top:1429.8px;width:50px;height:16.8px;line-height:16.8px;font-size:14px;color:#0d7cc9;text-align:center;font-weight:bold;">22</div>
<div class="t" style="left:83.0px;top:1429.8px;width:50px;height:16.8px;line-height:16.8px;font-size:14px;color:#111;text-align:center;-webkit-text-stroke:0.35px #111;">186</div>
<div class="t" style="left:211.0px;top:1429.8px;width:50px;height:16.8px;line-height:16.8px;font-size:14px;color:#111;text-align:center;-webkit-text-stroke:0.35px #111;">48</div>
<div class="t" style="left:17.0px;top:1447.7px;width:50px;height:16.8px;line-height:16.8px;font-size:14px;color:#0d7cc9;text-align:center;font-weight:bold;">24</div>
<div class="t" style="left:83.0px;top:1447.7px;width:50px;height:16.8px;line-height:16.8px;font-size:14px;color:#111;text-align:center;-webkit-text-stroke:0.35px #111;">206</div>
<div class="t" style="left:211.0px;top:1447.7px;width:50px;height:16.8px;line-height:16.8px;font-size:14px;color:#111;text-align:center;-webkit-text-stroke:0.35px #111;">50</div>
<div class="t" style="left:17.0px;top:1465.6px;width:50px;height:16.8px;line-height:16.8px;font-size:14px;color:#0d7cc9;text-align:center;font-weight:bold;">25</div>
<div class="t" style="left:83.0px;top:1465.6px;width:50px;height:16.8px;line-height:16.8px;font-size:14px;color:#111;text-align:center;-webkit-text-stroke:0.35px #111;">216</div>
<div class="t" style="left:211.0px;top:1465.6px;width:50px;height:16.8px;line-height:16.8px;font-size:14px;color:#111;text-align:center;-webkit-text-stroke:0.35px #111;">52</div>
<div class="t" style="left:17.0px;top:1483.6px;width:50px;height:16.8px;line-height:16.8px;font-size:14px;color:#0d7cc9;text-align:center;font-weight:bold;">28</div>
<div class="t" style="left:83.0px;top:1483.6px;width:50px;height:16.8px;line-height:16.8px;font-size:14px;color:#111;text-align:center;-webkit-text-stroke:0.35px #111;">353</div>
<div class="t" style="left:211.0px;top:1483.6px;width:50px;height:16.8px;line-height:16.8px;font-size:14px;color:#111;text-align:center;-webkit-text-stroke:0.35px #111;">54</div>
<div class="t" style="left:17.0px;top:1501.5px;width:50px;height:16.8px;line-height:16.8px;font-size:14px;color:#0d7cc9;text-align:center;font-weight:bold;">30</div>
<div class="t" style="left:83.0px;top:1501.5px;width:50px;height:16.8px;line-height:16.8px;font-size:14px;color:#111;text-align:center;-webkit-text-stroke:0.35px #111;">382</div>
<div class="t" style="left:211.0px;top:1501.5px;width:50px;height:16.8px;line-height:16.8px;font-size:14px;color:#111;text-align:center;-webkit-text-stroke:0.35px #111;">57</div>
<div class="t" style="left:17.0px;top:1519.4px;width:50px;height:16.8px;line-height:16.8px;font-size:14px;color:#0d7cc9;text-align:center;font-weight:bold;">32</div>
<div class="t" style="left:83.0px;top:1519.4px;width:50px;height:16.8px;line-height:16.8px;font-size:14px;color:#111;text-align:center;-webkit-text-stroke:0.35px #111;">412</div>
<div class="t" style="left:211.0px;top:1519.4px;width:50px;height:16.8px;line-height:16.8px;font-size:14px;color:#111;text-align:center;-webkit-text-stroke:0.35px #111;">59</div>
<div class="l" style="left:8px;top:1249.03px;width:134px;height:1px;background:#777"></div>
<div class="l" style="left:207.2px;top:1249.03px;width:66.10000000000002px;height:1px;background:#777"></div>
<div class="l" style="left:8px;top:1266.96px;width:134px;height:1px;background:#777"></div>
<div class="l" style="left:207.2px;top:1266.96px;width:66.10000000000002px;height:1px;background:#777"></div>
<div class="l" style="left:8px;top:1284.89px;width:134px;height:1px;background:#777"></div>
<div class="l" style="left:207.2px;top:1284.89px;width:66.10000000000002px;height:1px;background:#777"></div>
<div class="l" style="left:8px;top:1302.82px;width:134px;height:1px;background:#777"></div>
<div class="l" style="left:207.2px;top:1302.82px;width:66.10000000000002px;height:1px;background:#777"></div>
<div class="l" style="left:8px;top:1320.75px;width:134px;height:1px;background:#777"></div>
<div class="l" style="left:207.2px;top:1320.75px;width:66.10000000000002px;height:1px;background:#777"></div>
<div class="l" style="left:8px;top:1338.68px;width:134px;height:1px;background:#777"></div>
<div class="l" style="left:207.2px;top:1338.68px;width:66.10000000000002px;height:1px;background:#777"></div>
<div class="l" style="left:8px;top:1356.61px;width:134px;height:1px;background:#777"></div>
<div class="l" style="left:207.2px;top:1356.61px;width:66.10000000000002px;height:1px;background:#777"></div>
<div class="l" style="left:8px;top:1374.54px;width:134px;height:1px;background:#777"></div>
<div class="l" style="left:207.2px;top:1374.54px;width:66.10000000000002px;height:1px;background:#777"></div>
<div class="l" style="left:8px;top:1392.46px;width:134px;height:1px;background:#777"></div>
<div class="l" style="left:207.2px;top:1392.46px;width:66.10000000000002px;height:1px;background:#777"></div>
<div class="l" style="left:8px;top:1410.39px;width:134px;height:1px;background:#777"></div>
<div class="l" style="left:207.2px;top:1410.39px;width:66.10000000000002px;height:1px;background:#777"></div>
<div class="l" style="left:8px;top:1428.32px;width:134px;height:1px;background:#777"></div>
<div class="l" style="left:207.2px;top:1428.32px;width:66.10000000000002px;height:1px;background:#777"></div>
<div class="l" style="left:8px;top:1446.25px;width:134px;height:1px;background:#777"></div>
<div class="l" style="left:207.2px;top:1446.25px;width:66.10000000000002px;height:1px;background:#777"></div>
<div class="l" style="left:8px;top:1464.18px;width:134px;height:1px;background:#777"></div>
<div class="l" style="left:207.2px;top:1464.18px;width:66.10000000000002px;height:1px;background:#777"></div>
<div class="l" style="left:8px;top:1482.11px;width:134px;height:1px;background:#777"></div>
<div class="l" style="left:207.2px;top:1482.11px;width:66.10000000000002px;height:1px;background:#777"></div>
<div class="l" style="left:8px;top:1500.04px;width:134px;height:1px;background:#777"></div>
<div class="l" style="left:207.2px;top:1500.04px;width:66.10000000000002px;height:1px;background:#777"></div>
<div class="l" style="left:8px;top:1517.97px;width:134px;height:1px;background:#777"></div>
<div class="l" style="left:207.2px;top:1517.97px;width:66.10000000000002px;height:1px;background:#777"></div>
<div class="l" style="left:142px;top:1249.03px;width:65.19999999999999px;height:1px;background:#777"></div>
<div class="l" style="left:273.3px;top:1249.03px;width:66.09999999999997px;height:1px;background:#777"></div>
<div class="l" style="left:142px;top:1266.96px;width:65.19999999999999px;height:1px;background:#777"></div>
<div class="l" style="left:273.3px;top:1266.96px;width:66.09999999999997px;height:1px;background:#777"></div>
<div class="l" style="left:142px;top:1284.89px;width:65.19999999999999px;height:1px;background:#777"></div>
<div class="l" style="left:273.3px;top:1284.89px;width:66.09999999999997px;height:1px;background:#777"></div>
<div class="l" style="left:142px;top:1302.82px;width:65.19999999999999px;height:1px;background:#777"></div>
<div class="l" style="left:273.3px;top:1302.82px;width:66.09999999999997px;height:1px;background:#777"></div>
<div class="l" style="left:142px;top:1410.39px;width:65.19999999999999px;height:1px;background:#777"></div>
<div class="l" style="left:273.3px;top:1410.39px;width:66.09999999999997px;height:1px;background:#777"></div>
<div class="l" style="left:170.5px;top:1356.21px;width:11.0px;height:1.8px;background:#222"></div>
<div class="l" style="left:301.5px;top:1356.21px;width:11.0px;height:1.8px;background:#222"></div>
<div class="l" style="left:170.5px;top:1472.75px;width:11.0px;height:1.8px;background:#222"></div>
<div class="l" style="left:301.5px;top:1472.75px;width:11.0px;height:1.8px;background:#222"></div>
<div class="t" style="left:342.0px;top:1232.6px;width:60px;height:16.8px;line-height:16.8px;font-size:14px;color:#111;text-align:center;-webkit-text-stroke:0.35px #111;">8.5</div>
<div class="l" style="left:339.4px;top:1249.03px;width:67.10000000000002px;height:1px;background:#777"></div>
<div class="t" style="left:342.0px;top:1268.4px;width:60px;height:16.8px;line-height:16.8px;font-size:14px;color:#111;text-align:center;-webkit-text-stroke:0.35px #111;">10.5</div>
<div class="l" style="left:339.4px;top:1302.82px;width:67.10000000000002px;height:1px;background:#777"></div>
<div class="t" style="left:342.0px;top:1313.2px;width:60px;height:16.8px;line-height:16.8px;font-size:14px;color:#111;text-align:center;-webkit-text-stroke:0.35px #111;">12</div>
<div class="l" style="left:339.4px;top:1338.68px;width:67.10000000000002px;height:1px;background:#777"></div>
<div class="t" style="left:342.0px;top:1349.1px;width:60px;height:16.8px;line-height:16.8px;font-size:14px;color:#111;text-align:center;-webkit-text-stroke:0.35px #111;">13</div>
<div class="l" style="left:339.4px;top:1374.54px;width:67.10000000000002px;height:1px;background:#777"></div>
<div class="t" style="left:342.0px;top:1385.0px;width:60px;height:16.8px;line-height:16.8px;font-size:14px;color:#111;text-align:center;-webkit-text-stroke:0.35px #111;">14</div>
<div class="l" style="left:339.4px;top:1410.39px;width:67.10000000000002px;height:1px;background:#777"></div>
<div class="t" style="left:342.0px;top:1438.8px;width:60px;height:16.8px;line-height:16.8px;font-size:14px;color:#111;text-align:center;-webkit-text-stroke:0.35px #111;">14</div>
<div class="l" style="left:339.4px;top:1482.11px;width:67.10000000000002px;height:1px;background:#777"></div>
<div class="t" style="left:342.0px;top:1492.5px;width:60px;height:16.8px;line-height:16.8px;font-size:14px;color:#111;text-align:center;-webkit-text-stroke:0.35px #111;">15.5</div>
<div class="l" style="left:339.4px;top:1517.97px;width:67.10000000000002px;height:1px;background:#777"></div>
<div class="t" style="left:342.0px;top:1519.4px;width:60px;height:16.8px;line-height:16.8px;font-size:14px;color:#111;text-align:center;-webkit-text-stroke:0.35px #111;">16.5</div>
</body></html>
